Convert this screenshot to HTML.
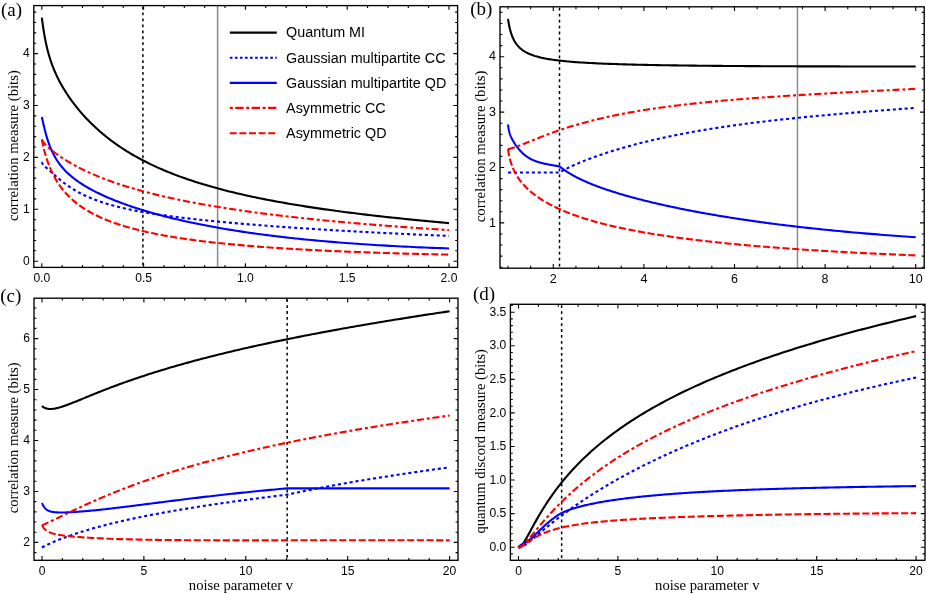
<!DOCTYPE html>
<html lang="en">
<head>
<meta charset="utf-8">
<title>Correlation measures vs noise parameter</title>
<style>
html,body{margin:0;padding:0;background:#fff;}
body{width:926px;height:594px;overflow:hidden;font-family:"Liberation Sans",sans-serif;}
svg{display:block;}
.tk{font-family:"Liberation Sans",sans-serif;fill:#000;}
.lg{font-family:"Liberation Sans",sans-serif;font-size:14.35px;fill:#000;}
.ax{font-family:"Liberation Serif",serif;fill:#000;}
.pl{font-family:"Liberation Serif",serif;font-size:19px;fill:#000;}
</style>
</head>
<body>
<svg width="926" height="594" viewBox="0 0 926 594">
<rect x="0" y="0" width="926" height="594" fill="#ffffff"/>
<defs><filter id="nf" x="0" y="0" width="926" height="594" filterUnits="userSpaceOnUse"><feOffset dx="0" dy="0"/></filter></defs>
<g filter="url(#nf)">
<g id="panel-a">
<line x1="142.91" y1="5.60" x2="142.91" y2="267.40" stroke="#000" stroke-width="1.5" stroke-dasharray="2.8 3.15" stroke-dashoffset="-1"/>
<line x1="217.61" y1="5.60" x2="217.61" y2="267.40" stroke="#8a8a8a" stroke-width="1.5"/>
<path d="M41.80 17.58 L41.81 17.66 L41.84 17.89 L41.89 18.28 L41.96 18.82 L42.06 19.51 L42.17 20.34 L42.30 21.32 L42.46 22.44 L42.63 23.68 L42.83 25.05 L43.04 26.52 L43.28 28.10 L43.54 29.76 L43.82 31.50 L44.11 33.30 L44.43 35.15 L44.77 37.04 L45.13 38.96 L45.51 40.90 L45.91 42.85 L46.33 44.81 L46.78 46.76 L47.24 48.70 L47.72 50.63 L48.23 52.55 L48.75 54.44 L49.30 56.32 L49.86 58.17 L50.45 60.01 L51.05 61.82 L51.68 63.61 L52.33 65.38 L53.00 67.13 L53.69 68.86 L54.40 70.57 L55.13 72.26 L55.88 73.94 L56.65 75.61 L57.44 77.26 L58.25 78.90 L59.08 80.52 L59.94 82.14 L60.81 83.75 L61.71 85.34 L62.62 86.93 L63.56 88.51 L64.51 90.08 L65.49 91.65 L66.49 93.20 L67.51 94.76 L68.54 96.30 L69.60 97.84 L70.68 99.37 L71.78 100.89 L72.90 102.41 L74.05 103.93 L75.21 105.43 L76.39 106.93 L77.59 108.42 L78.82 109.91 L80.06 111.38 L81.33 112.85 L82.61 114.32 L83.92 115.77 L85.24 117.22 L86.59 118.66 L87.96 120.09 L89.35 121.51 L90.76 122.92 L92.18 124.32 L93.63 125.71 L95.10 127.09 L96.60 128.47 L98.11 129.83 L99.64 131.18 L101.19 132.52 L102.77 133.85 L104.36 135.17 L105.97 136.48 L107.61 137.78 L109.26 139.07 L110.94 140.34 L112.64 141.61 L114.35 142.86 L116.09 144.10 L117.85 145.33 L119.63 146.54 L121.43 147.75 L123.25 148.94 L125.09 150.12 L126.95 151.29 L128.83 152.44 L130.73 153.59 L132.66 154.72 L134.60 155.84 L136.56 156.95 L138.55 158.04 L140.55 159.13 L142.58 160.20 L144.63 161.26 L146.69 162.31 L148.78 163.34 L150.89 164.37 L153.02 165.38 L155.17 166.38 L157.33 167.37 L159.53 168.34 L161.74 169.31 L163.97 170.26 L166.22 171.21 L168.49 172.14 L170.78 173.06 L173.10 173.97 L175.43 174.87 L177.79 175.75 L180.16 176.63 L182.56 177.50 L184.97 178.35 L187.41 179.20 L189.87 180.03 L192.35 180.86 L194.85 181.67 L197.36 182.48 L199.90 183.27 L202.47 184.06 L205.05 184.83 L207.65 185.60 L210.27 186.36 L212.91 187.10 L215.58 187.84 L218.26 188.57 L220.96 189.29 L223.69 190.00 L226.43 190.71 L229.20 191.40 L231.99 192.09 L234.79 192.77 L237.62 193.44 L240.47 194.10 L243.34 194.75 L246.23 195.40 L249.14 196.04 L252.07 196.67 L255.02 197.29 L257.99 197.91 L260.98 198.52 L264.00 199.12 L267.03 199.71 L270.08 200.30 L273.16 200.88 L276.25 201.46 L279.37 202.02 L282.50 202.59 L285.66 203.14 L288.84 203.69 L292.04 204.23 L295.26 204.77 L298.49 205.30 L301.75 205.83 L305.03 206.35 L308.33 206.86 L311.66 207.37 L315.00 207.87 L318.36 208.37 L321.74 208.86 L325.15 209.35 L328.57 209.83 L332.02 210.31 L335.48 210.78 L338.97 211.25 L342.47 211.72 L346.00 212.17 L349.55 212.63 L353.12 213.08 L356.70 213.52 L360.31 213.97 L363.94 214.40 L367.59 214.84 L371.26 215.26 L374.96 215.69 L378.67 216.11 L382.40 216.53 L386.15 216.94 L389.93 217.35 L393.72 217.76 L397.54 218.16 L401.37 218.56 L405.23 218.96 L409.10 219.35 L413.00 219.74 L416.92 220.13 L420.86 220.51 L424.82 220.89 L428.79 221.26 L432.79 221.64 L436.82 222.01 L440.86 222.38 L444.92 222.74 L449.00 223.11" fill="none" stroke="#000000" stroke-width="2.10"/>
<path d="M41.80 161.97 L41.81 161.99 L41.84 162.08 L41.89 162.21 L41.96 162.39 L42.06 162.61 L42.17 162.87 L42.30 163.15 L42.46 163.45 L42.63 163.77 L42.83 164.09 L43.04 164.42 L43.28 164.75 L43.54 165.08 L43.82 165.41 L44.11 165.74 L44.43 166.06 L44.77 166.39 L45.13 166.72 L45.51 167.06 L45.91 167.41 L46.33 167.77 L46.78 168.15 L47.24 168.54 L47.72 168.95 L48.23 169.39 L48.75 169.84 L49.30 170.31 L49.86 170.81 L50.45 171.32 L51.05 171.86 L51.68 172.42 L52.33 173.00 L53.00 173.60 L53.69 174.22 L54.40 174.86 L55.13 175.51 L55.88 176.17 L56.65 176.85 L57.44 177.54 L58.25 178.23 L59.08 178.94 L59.94 179.66 L60.81 180.37 L61.71 181.10 L62.62 181.83 L63.56 182.56 L64.51 183.29 L65.49 184.02 L66.49 184.74 L67.51 185.47 L68.54 186.19 L69.60 186.91 L70.68 187.63 L71.78 188.34 L72.90 189.04 L74.05 189.74 L75.21 190.43 L76.39 191.12 L77.59 191.79 L78.82 192.46 L80.06 193.12 L81.33 193.78 L82.61 194.42 L83.92 195.05 L85.24 195.68 L86.59 196.30 L87.96 196.90 L89.35 197.50 L90.76 198.09 L92.18 198.67 L93.63 199.24 L95.10 199.81 L96.60 200.36 L98.11 200.90 L99.64 201.44 L101.19 201.96 L102.77 202.48 L104.36 202.99 L105.97 203.49 L107.61 203.98 L109.26 204.47 L110.94 204.94 L112.64 205.41 L114.35 205.87 L116.09 206.32 L117.85 206.77 L119.63 207.21 L121.43 207.64 L123.25 208.06 L125.09 208.48 L126.95 208.89 L128.83 209.30 L130.73 209.70 L132.66 210.09 L134.60 210.47 L136.56 210.86 L138.55 211.23 L140.55 211.60 L142.58 211.96 L144.63 212.32 L146.69 212.68 L148.78 213.03 L150.89 213.37 L153.02 213.71 L155.17 214.05 L157.33 214.38 L159.53 214.71 L161.74 215.03 L163.97 215.35 L166.22 215.66 L168.49 215.98 L170.78 216.28 L173.10 216.59 L175.43 216.89 L177.79 217.19 L180.16 217.48 L182.56 217.78 L184.97 218.07 L187.41 218.35 L189.87 218.64 L192.35 218.92 L194.85 219.20 L197.36 219.47 L199.90 219.75 L202.47 220.02 L205.05 220.29 L207.65 220.55 L210.27 220.82 L212.91 221.08 L215.58 221.34 L218.26 221.60 L220.96 221.86 L223.69 222.11 L226.43 222.36 L229.20 222.62 L231.99 222.87 L234.79 223.11 L237.62 223.36 L240.47 223.60 L243.34 223.85 L246.23 224.09 L249.14 224.33 L252.07 224.57 L255.02 224.81 L257.99 225.04 L260.98 225.28 L264.00 225.51 L267.03 225.74 L270.08 225.97 L273.16 226.20 L276.25 226.43 L279.37 226.66 L282.50 226.88 L285.66 227.11 L288.84 227.33 L292.04 227.55 L295.26 227.77 L298.49 227.99 L301.75 228.21 L305.03 228.43 L308.33 228.64 L311.66 228.86 L315.00 229.07 L318.36 229.28 L321.74 229.49 L325.15 229.70 L328.57 229.91 L332.02 230.12 L335.48 230.33 L338.97 230.53 L342.47 230.73 L346.00 230.94 L349.55 231.14 L353.12 231.34 L356.70 231.54 L360.31 231.73 L363.94 231.93 L367.59 232.12 L371.26 232.32 L374.96 232.51 L378.67 232.70 L382.40 232.89 L386.15 233.08 L389.93 233.26 L393.72 233.45 L397.54 233.63 L401.37 233.81 L405.23 233.99 L409.10 234.17 L413.00 234.35 L416.92 234.53 L420.86 234.70 L424.82 234.87 L428.79 235.04 L432.79 235.21 L436.82 235.38 L440.86 235.55 L444.92 235.71 L449.00 235.87" fill="none" stroke="#0000ff" stroke-width="2.10" stroke-dasharray="3.1 2.85"/>
<path d="M41.80 116.92 L41.81 116.96 L41.84 117.09 L41.89 117.31 L41.96 117.62 L42.06 118.02 L42.17 118.52 L42.30 119.10 L42.46 119.79 L42.63 120.56 L42.83 121.43 L43.04 122.39 L43.28 123.43 L43.54 124.55 L43.82 125.75 L44.11 127.01 L44.43 128.33 L44.77 129.71 L45.13 131.12 L45.51 132.58 L45.91 134.06 L46.33 135.56 L46.78 137.08 L47.24 138.60 L47.72 140.12 L48.23 141.65 L48.75 143.16 L49.30 144.66 L49.86 146.15 L50.45 147.62 L51.05 149.06 L51.68 150.49 L52.33 151.89 L53.00 153.27 L53.69 154.62 L54.40 155.94 L55.13 157.24 L55.88 158.52 L56.65 159.76 L57.44 160.99 L58.25 162.18 L59.08 163.35 L59.94 164.50 L60.81 165.63 L61.71 166.73 L62.62 167.81 L63.56 168.87 L64.51 169.91 L65.49 170.94 L66.49 171.94 L67.51 172.93 L68.54 173.90 L69.60 174.85 L70.68 175.79 L71.78 176.72 L72.90 177.63 L74.05 178.53 L75.21 179.41 L76.39 180.29 L77.59 181.15 L78.82 182.00 L80.06 182.85 L81.33 183.68 L82.61 184.50 L83.92 185.32 L85.24 186.13 L86.59 186.92 L87.96 187.72 L89.35 188.50 L90.76 189.28 L92.18 190.05 L93.63 190.81 L95.10 191.57 L96.60 192.32 L98.11 193.06 L99.64 193.80 L101.19 194.54 L102.77 195.27 L104.36 195.99 L105.97 196.71 L107.61 197.42 L109.26 198.13 L110.94 198.83 L112.64 199.53 L114.35 200.23 L116.09 200.92 L117.85 201.60 L119.63 202.28 L121.43 202.96 L123.25 203.63 L125.09 204.30 L126.95 204.96 L128.83 205.62 L130.73 206.27 L132.66 206.92 L134.60 207.56 L136.56 208.21 L138.55 208.84 L140.55 209.47 L142.58 210.10 L144.63 210.72 L146.69 211.34 L148.78 211.96 L150.89 212.57 L153.02 213.17 L155.17 213.77 L157.33 214.37 L159.53 214.96 L161.74 215.55 L163.97 216.13 L166.22 216.71 L168.49 217.29 L170.78 217.86 L173.10 218.42 L175.43 218.98 L177.79 219.54 L180.16 220.09 L182.56 220.63 L184.97 221.17 L187.41 221.71 L189.87 222.24 L192.35 222.77 L194.85 223.29 L197.36 223.81 L199.90 224.32 L202.47 224.83 L205.05 225.33 L207.65 225.83 L210.27 226.32 L212.91 226.81 L215.58 227.29 L218.26 227.77 L220.96 228.24 L223.69 228.71 L226.43 229.17 L229.20 229.63 L231.99 230.08 L234.79 230.53 L237.62 230.97 L240.47 231.41 L243.34 231.84 L246.23 232.27 L249.14 232.69 L252.07 233.11 L255.02 233.52 L257.99 233.93 L260.98 234.33 L264.00 234.73 L267.03 235.12 L270.08 235.51 L273.16 235.89 L276.25 236.26 L279.37 236.64 L282.50 237.00 L285.66 237.36 L288.84 237.72 L292.04 238.07 L295.26 238.42 L298.49 238.76 L301.75 239.09 L305.03 239.42 L308.33 239.75 L311.66 240.07 L315.00 240.38 L318.36 240.69 L321.74 241.00 L325.15 241.30 L328.57 241.59 L332.02 241.88 L335.48 242.17 L338.97 242.45 L342.47 242.72 L346.00 242.99 L349.55 243.26 L353.12 243.52 L356.70 243.77 L360.31 244.02 L363.94 244.27 L367.59 244.51 L371.26 244.74 L374.96 244.97 L378.67 245.20 L382.40 245.42 L386.15 245.63 L389.93 245.84 L393.72 246.05 L397.54 246.25 L401.37 246.45 L405.23 246.64 L409.10 246.82 L413.00 247.01 L416.92 247.18 L420.86 247.36 L424.82 247.52 L428.79 247.69 L432.79 247.84 L436.82 248.00 L440.86 248.15 L444.92 248.29 L449.00 248.43" fill="none" stroke="#0000ff" stroke-width="2.10"/>
<path d="M41.80 139.55 L41.81 139.57 L41.84 139.63 L41.89 139.72 L41.96 139.86 L42.06 140.03 L42.17 140.23 L42.30 140.46 L42.46 140.72 L42.63 141.01 L42.83 141.31 L43.04 141.64 L43.28 141.98 L43.54 142.33 L43.82 142.70 L44.11 143.08 L44.43 143.47 L44.77 143.87 L45.13 144.28 L45.51 144.70 L45.91 145.12 L46.33 145.56 L46.78 146.00 L47.24 146.44 L47.72 146.90 L48.23 147.36 L48.75 147.83 L49.30 148.31 L49.86 148.80 L50.45 149.29 L51.05 149.79 L51.68 150.30 L52.33 150.82 L53.00 151.35 L53.69 151.88 L54.40 152.42 L55.13 152.97 L55.88 153.52 L56.65 154.08 L57.44 154.65 L58.25 155.23 L59.08 155.81 L59.94 156.39 L60.81 156.98 L61.71 157.58 L62.62 158.18 L63.56 158.78 L64.51 159.39 L65.49 160.00 L66.49 160.62 L67.51 161.24 L68.54 161.86 L69.60 162.49 L70.68 163.11 L71.78 163.74 L72.90 164.38 L74.05 165.01 L75.21 165.64 L76.39 166.28 L77.59 166.91 L78.82 167.55 L80.06 168.18 L81.33 168.82 L82.61 169.46 L83.92 170.09 L85.24 170.73 L86.59 171.36 L87.96 172.00 L89.35 172.63 L90.76 173.26 L92.18 173.89 L93.63 174.52 L95.10 175.15 L96.60 175.78 L98.11 176.40 L99.64 177.02 L101.19 177.64 L102.77 178.26 L104.36 178.88 L105.97 179.49 L107.61 180.10 L109.26 180.71 L110.94 181.31 L112.64 181.92 L114.35 182.51 L116.09 183.11 L117.85 183.71 L119.63 184.30 L121.43 184.89 L123.25 185.47 L125.09 186.05 L126.95 186.63 L128.83 187.21 L130.73 187.78 L132.66 188.35 L134.60 188.91 L136.56 189.48 L138.55 190.04 L140.55 190.59 L142.58 191.14 L144.63 191.69 L146.69 192.24 L148.78 192.78 L150.89 193.32 L153.02 193.85 L155.17 194.39 L157.33 194.91 L159.53 195.44 L161.74 195.96 L163.97 196.48 L166.22 196.99 L168.49 197.50 L170.78 198.01 L173.10 198.51 L175.43 199.01 L177.79 199.51 L180.16 200.00 L182.56 200.49 L184.97 200.98 L187.41 201.46 L189.87 201.94 L192.35 202.42 L194.85 202.89 L197.36 203.36 L199.90 203.82 L202.47 204.28 L205.05 204.74 L207.65 205.20 L210.27 205.65 L212.91 206.10 L215.58 206.54 L218.26 206.98 L220.96 207.42 L223.69 207.85 L226.43 208.29 L229.20 208.71 L231.99 209.14 L234.79 209.56 L237.62 209.98 L240.47 210.39 L243.34 210.81 L246.23 211.21 L249.14 211.62 L252.07 212.02 L255.02 212.42 L257.99 212.82 L260.98 213.21 L264.00 213.60 L267.03 213.99 L270.08 214.37 L273.16 214.75 L276.25 215.13 L279.37 215.50 L282.50 215.88 L285.66 216.24 L288.84 216.61 L292.04 216.97 L295.26 217.33 L298.49 217.69 L301.75 218.04 L305.03 218.39 L308.33 218.74 L311.66 219.09 L315.00 219.43 L318.36 219.77 L321.74 220.11 L325.15 220.44 L328.57 220.77 L332.02 221.10 L335.48 221.43 L338.97 221.75 L342.47 222.07 L346.00 222.39 L349.55 222.71 L353.12 223.02 L356.70 223.33 L360.31 223.64 L363.94 223.95 L367.59 224.25 L371.26 224.55 L374.96 224.85 L378.67 225.14 L382.40 225.44 L386.15 225.73 L389.93 226.02 L393.72 226.30 L397.54 226.58 L401.37 226.87 L405.23 227.14 L409.10 227.42 L413.00 227.70 L416.92 227.97 L420.86 228.24 L424.82 228.50 L428.79 228.77 L432.79 229.03 L436.82 229.29 L440.86 229.55 L444.92 229.81 L449.00 230.06" fill="none" stroke="#ff0000" stroke-width="2.10" stroke-dasharray="7.1 2.85 3 2.7"/>
<path d="M41.80 139.55 L41.81 139.60 L41.84 139.75 L41.89 140.01 L41.96 140.37 L42.06 140.83 L42.17 141.38 L42.30 142.02 L42.46 142.75 L42.63 143.55 L42.83 144.44 L43.04 145.39 L43.28 146.41 L43.54 147.49 L43.82 148.63 L44.11 149.81 L44.43 151.03 L44.77 152.30 L45.13 153.59 L45.51 154.91 L45.91 156.26 L46.33 157.62 L46.78 159.00 L47.24 160.39 L47.72 161.79 L48.23 163.19 L48.75 164.59 L49.30 165.99 L49.86 167.39 L50.45 168.79 L51.05 170.18 L51.68 171.55 L52.33 172.92 L53.00 174.28 L53.69 175.63 L54.40 176.96 L55.13 178.28 L55.88 179.58 L56.65 180.87 L57.44 182.14 L58.25 183.40 L59.08 184.64 L59.94 185.86 L60.81 187.06 L61.71 188.25 L62.62 189.42 L63.56 190.57 L64.51 191.71 L65.49 192.82 L66.49 193.92 L67.51 195.01 L68.54 196.07 L69.60 197.12 L70.68 198.15 L71.78 199.17 L72.90 200.17 L74.05 201.15 L75.21 202.12 L76.39 203.07 L77.59 204.00 L78.82 204.92 L80.06 205.82 L81.33 206.71 L82.61 207.59 L83.92 208.44 L85.24 209.29 L86.59 210.12 L87.96 210.94 L89.35 211.74 L90.76 212.53 L92.18 213.31 L93.63 214.07 L95.10 214.82 L96.60 215.56 L98.11 216.29 L99.64 217.00 L101.19 217.71 L102.77 218.40 L104.36 219.08 L105.97 219.74 L107.61 220.40 L109.26 221.05 L110.94 221.68 L112.64 222.31 L114.35 222.92 L116.09 223.53 L117.85 224.12 L119.63 224.71 L121.43 225.29 L123.25 225.85 L125.09 226.41 L126.95 226.96 L128.83 227.50 L130.73 228.03 L132.66 228.55 L134.60 229.06 L136.56 229.57 L138.55 230.07 L140.55 230.56 L142.58 231.04 L144.63 231.51 L146.69 231.98 L148.78 232.44 L150.89 232.89 L153.02 233.33 L155.17 233.77 L157.33 234.20 L159.53 234.63 L161.74 235.04 L163.97 235.45 L166.22 235.86 L168.49 236.25 L170.78 236.65 L173.10 237.03 L175.43 237.41 L177.79 237.78 L180.16 238.15 L182.56 238.51 L184.97 238.87 L187.41 239.22 L189.87 239.56 L192.35 239.90 L194.85 240.23 L197.36 240.56 L199.90 240.88 L202.47 241.20 L205.05 241.52 L207.65 241.82 L210.27 242.13 L212.91 242.43 L215.58 242.72 L218.26 243.01 L220.96 243.29 L223.69 243.57 L226.43 243.85 L229.20 244.12 L231.99 244.39 L234.79 244.65 L237.62 244.91 L240.47 245.16 L243.34 245.41 L246.23 245.66 L249.14 245.90 L252.07 246.14 L255.02 246.38 L257.99 246.61 L260.98 246.83 L264.00 247.06 L267.03 247.28 L270.08 247.49 L273.16 247.71 L276.25 247.92 L279.37 248.12 L282.50 248.32 L285.66 248.52 L288.84 248.72 L292.04 248.91 L295.26 249.10 L298.49 249.29 L301.75 249.47 L305.03 249.65 L308.33 249.83 L311.66 250.00 L315.00 250.17 L318.36 250.34 L321.74 250.51 L325.15 250.67 L328.57 250.83 L332.02 250.99 L335.48 251.14 L338.97 251.29 L342.47 251.44 L346.00 251.59 L349.55 251.73 L353.12 251.87 L356.70 252.01 L360.31 252.15 L363.94 252.28 L367.59 252.41 L371.26 252.54 L374.96 252.67 L378.67 252.79 L382.40 252.92 L386.15 253.04 L389.93 253.15 L393.72 253.27 L397.54 253.38 L401.37 253.49 L405.23 253.60 L409.10 253.71 L413.00 253.81 L416.92 253.91 L420.86 254.01 L424.82 254.11 L428.79 254.21 L432.79 254.30 L436.82 254.40 L440.86 254.49 L444.92 254.57 L449.00 254.66" fill="none" stroke="#ff0000" stroke-width="2.10" stroke-dasharray="7.1 2.6"/>
<path d="M41.80 267.40v-4.20 M41.80 5.60v4.20 M62.16 267.40v-2.40 M62.16 5.60v2.40 M82.52 267.40v-2.40 M82.52 5.60v2.40 M102.88 267.40v-2.40 M102.88 5.60v2.40 M123.24 267.40v-2.40 M123.24 5.60v2.40 M143.60 267.40v-4.20 M143.60 5.60v4.20 M163.96 267.40v-2.40 M163.96 5.60v2.40 M184.32 267.40v-2.40 M184.32 5.60v2.40 M204.68 267.40v-2.40 M204.68 5.60v2.40 M225.04 267.40v-2.40 M225.04 5.60v2.40 M245.40 267.40v-4.20 M245.40 5.60v4.20 M265.76 267.40v-2.40 M265.76 5.60v2.40 M286.12 267.40v-2.40 M286.12 5.60v2.40 M306.48 267.40v-2.40 M306.48 5.60v2.40 M326.84 267.40v-2.40 M326.84 5.60v2.40 M347.20 267.40v-4.20 M347.20 5.60v4.20 M367.56 267.40v-2.40 M367.56 5.60v2.40 M387.92 267.40v-2.40 M387.92 5.60v2.40 M408.28 267.40v-2.40 M408.28 5.60v2.40 M428.64 267.40v-2.40 M428.64 5.60v2.40 M449.00 267.40v-4.20 M449.00 5.60v4.20 M33.80 261.20h4.20 M457.60 261.20h-4.20 M33.80 250.82h2.40 M457.60 250.82h-2.40 M33.80 240.44h2.40 M457.60 240.44h-2.40 M33.80 230.06h2.40 M457.60 230.06h-2.40 M33.80 219.68h2.40 M457.60 219.68h-2.40 M33.80 209.30h4.20 M457.60 209.30h-4.20 M33.80 198.92h2.40 M457.60 198.92h-2.40 M33.80 188.54h2.40 M457.60 188.54h-2.40 M33.80 178.16h2.40 M457.60 178.16h-2.40 M33.80 167.78h2.40 M457.60 167.78h-2.40 M33.80 157.40h4.20 M457.60 157.40h-4.20 M33.80 147.02h2.40 M457.60 147.02h-2.40 M33.80 136.64h2.40 M457.60 136.64h-2.40 M33.80 126.26h2.40 M457.60 126.26h-2.40 M33.80 115.88h2.40 M457.60 115.88h-2.40 M33.80 105.50h4.20 M457.60 105.50h-4.20 M33.80 95.12h2.40 M457.60 95.12h-2.40 M33.80 84.74h2.40 M457.60 84.74h-2.40 M33.80 74.36h2.40 M457.60 74.36h-2.40 M33.80 63.98h2.40 M457.60 63.98h-2.40 M33.80 53.60h4.20 M457.60 53.60h-4.20 M33.80 43.22h2.40 M457.60 43.22h-2.40 M33.80 32.84h2.40 M457.60 32.84h-2.40 M33.80 22.46h2.40 M457.60 22.46h-2.40 M33.80 12.08h2.40 M457.60 12.08h-2.40" fill="none" stroke="#000" stroke-width="1.1"/>
<rect x="33.80" y="5.60" width="423.80" height="261.80" fill="none" stroke="#000" stroke-width="1.35"/>
<text class="tk" font-size="12.10" x="41.80" y="281.70" text-anchor="middle">0.0</text>
<text class="tk" font-size="12.10" x="143.60" y="281.70" text-anchor="middle">0.5</text>
<text class="tk" font-size="12.10" x="245.40" y="281.70" text-anchor="middle">1.0</text>
<text class="tk" font-size="12.10" x="347.20" y="281.70" text-anchor="middle">1.5</text>
<text class="tk" font-size="12.10" x="449.00" y="281.70" text-anchor="middle">2.0</text>
<text class="tk" font-size="12.10" x="29.70" y="264.83" text-anchor="end">0</text>
<text class="tk" font-size="12.10" x="29.70" y="212.93" text-anchor="end">1</text>
<text class="tk" font-size="12.10" x="29.70" y="161.03" text-anchor="end">2</text>
<text class="tk" font-size="12.10" x="29.70" y="109.13" text-anchor="end">3</text>
<text class="tk" font-size="12.10" x="29.70" y="57.23" text-anchor="end">4</text>
</g>
<g id="panel-b">
<line x1="559.51" y1="6.80" x2="559.51" y2="268.20" stroke="#000" stroke-width="1.5" stroke-dasharray="2.8 3.15" stroke-dashoffset="-1"/>
<line x1="797.47" y1="6.80" x2="797.47" y2="268.20" stroke="#8a8a8a" stroke-width="1.5"/>
<path d="M508.00 18.86 L508.01 18.93 L508.04 19.14 L508.09 19.49 L508.16 19.96 L508.26 20.56 L508.37 21.26 L508.50 22.06 L508.66 22.94 L508.83 23.90 L509.03 24.91 L509.25 25.98 L509.48 27.07 L509.74 28.19 L510.02 29.32 L510.32 30.46 L510.64 31.60 L510.98 32.73 L511.34 33.84 L511.72 34.93 L512.12 36.00 L512.54 37.05 L512.98 38.07 L513.45 39.06 L513.93 40.02 L514.43 40.94 L514.96 41.84 L515.51 42.70 L516.07 43.54 L516.66 44.34 L517.27 45.12 L517.89 45.86 L518.54 46.57 L519.21 47.26 L519.90 47.92 L520.61 48.56 L521.34 49.17 L522.09 49.75 L522.87 50.31 L523.66 50.85 L524.47 51.37 L525.31 51.87 L526.16 52.35 L527.04 52.81 L527.93 53.25 L528.85 53.68 L529.78 54.08 L530.74 54.48 L531.72 54.86 L532.72 55.22 L533.74 55.57 L534.78 55.91 L535.84 56.23 L536.92 56.55 L538.02 56.85 L539.14 57.14 L540.29 57.42 L541.45 57.69 L542.63 57.95 L543.84 58.21 L545.06 58.45 L546.31 58.68 L547.57 58.91 L548.86 59.13 L550.17 59.34 L551.50 59.55 L552.85 59.75 L554.22 59.94 L555.60 60.13 L557.02 60.31 L558.45 60.48 L559.90 60.65 L561.37 60.82 L562.86 60.98 L564.38 61.13 L565.91 61.28 L567.47 61.43 L569.04 61.57 L570.64 61.70 L572.25 61.84 L573.89 61.97 L575.55 62.09 L577.22 62.21 L578.92 62.33 L580.64 62.45 L582.38 62.56 L584.14 62.67 L585.92 62.77 L587.73 62.88 L589.55 62.98 L591.39 63.07 L593.25 63.17 L595.14 63.26 L597.04 63.35 L598.97 63.44 L600.91 63.52 L602.88 63.61 L604.87 63.69 L606.88 63.77 L608.90 63.85 L610.95 63.92 L613.02 63.99 L615.11 64.07 L617.22 64.14 L619.35 64.20 L621.50 64.27 L623.68 64.33 L625.87 64.40 L628.08 64.46 L630.32 64.52 L632.57 64.58 L634.85 64.64 L637.14 64.69 L639.46 64.75 L641.80 64.80 L644.15 64.85 L646.53 64.90 L648.93 64.95 L651.35 65.00 L653.79 65.05 L656.25 65.09 L658.73 65.14 L661.23 65.18 L663.76 65.22 L666.30 65.27 L668.86 65.31 L671.45 65.35 L674.05 65.38 L676.68 65.42 L679.32 65.46 L681.99 65.50 L684.68 65.53 L687.38 65.56 L690.11 65.60 L692.86 65.63 L695.63 65.66 L698.42 65.69 L701.23 65.72 L704.06 65.75 L706.91 65.78 L709.79 65.81 L712.68 65.84 L715.59 65.86 L718.53 65.89 L721.48 65.91 L724.46 65.94 L727.45 65.96 L730.47 65.98 L733.51 66.01 L736.56 66.03 L739.64 66.05 L742.74 66.07 L745.86 66.09 L749.00 66.11 L752.16 66.13 L755.34 66.15 L758.54 66.16 L761.77 66.18 L765.01 66.20 L768.27 66.21 L771.56 66.23 L774.86 66.24 L778.19 66.26 L781.53 66.27 L784.90 66.28 L788.29 66.30 L791.69 66.31 L795.12 66.32 L798.57 66.33 L802.04 66.34 L805.53 66.35 L809.04 66.36 L812.57 66.37 L816.12 66.38 L819.70 66.39 L823.29 66.39 L826.90 66.40 L830.54 66.41 L834.19 66.41 L837.87 66.42 L841.56 66.43 L845.28 66.43 L849.02 66.44 L852.78 66.44 L856.55 66.44 L860.35 66.45 L864.17 66.45 L868.01 66.45 L871.87 66.45 L875.75 66.46 L879.66 66.46 L883.58 66.46 L887.52 66.46 L891.49 66.46 L895.47 66.46 L899.47 66.46 L903.50 66.46 L907.55 66.45 L911.61 66.45 L915.70 66.45" fill="none" stroke="#000000" stroke-width="2.10"/>
<path d="M508.00 172.49 L508.00 172.49 L508.01 172.49 L508.01 172.49 L508.02 172.49 L508.03 172.49 L508.05 172.49 L508.06 172.49 L508.08 172.49 L508.11 172.49 L508.13 172.49 L508.16 172.49 L508.19 172.49 L508.22 172.49 L508.25 172.49 L508.29 172.49 L508.33 172.49 L508.38 172.49 L508.42 172.49 L508.47 172.49 L508.52 172.49 L508.57 172.49 L508.63 172.49 L508.69 172.49 L508.75 172.49 L508.81 172.49 L508.88 172.49 L508.95 172.49 L509.02 172.49 L509.09 172.49 L509.17 172.49 L509.25 172.49 L509.33 172.49 L509.42 172.49 L509.50 172.49 L509.59 172.49 L509.69 172.49 L509.78 172.49 L509.88 172.49 L509.98 172.49 L510.08 172.49 L510.19 172.49 L510.29 172.49 L510.40 172.49 L510.52 172.49 L510.63 172.49 L510.75 172.49 L510.87 172.49 L511.00 172.49 L511.12 172.49 L511.25 172.49 L511.38 172.49 L511.52 172.49 L511.65 172.49 L511.79 172.49 L511.93 172.49 L512.08 172.49 L512.23 172.49 L512.38 172.49 L512.53 172.49 L512.68 172.49 L512.84 172.49 L513.00 172.49 L513.16 172.49 L513.33 172.49 L513.50 172.49 L513.67 172.49 L513.84 172.49 L514.01 172.49 L514.19 172.49 L514.37 172.49 L514.56 172.49 L514.74 172.49 L514.93 172.49 L515.12 172.49 L515.32 172.49 L515.51 172.49 L515.71 172.49 L515.91 172.49 L516.12 172.49 L516.32 172.49 L516.53 172.49 L516.75 172.49 L516.96 172.49 L517.18 172.49 L517.40 172.49 L517.62 172.49 L517.84 172.49 L518.07 172.49 L518.30 172.49 L518.54 172.49 L518.77 172.49 L519.01 172.49 L519.25 172.49 L519.49 172.49 L519.74 172.49 L519.99 172.49 L520.24 172.49 L520.49 172.49 L520.75 172.49 L521.01 172.49 L521.27 172.49 L521.53 172.49 L521.80 172.49 L522.07 172.49 L522.34 172.49 L522.61 172.49 L522.89 172.49 L523.17 172.49 L523.45 172.49 L523.74 172.49 L524.03 172.49 L524.32 172.49 L524.61 172.49 L524.90 172.49 L525.20 172.49 L525.50 172.49 L525.80 172.49 L526.11 172.49 L526.42 172.49 L526.73 172.49 L527.04 172.49 L527.36 172.49 L527.68 172.49 L528.00 172.49 L528.32 172.49 L528.65 172.49 L528.98 172.49 L529.31 172.49 L529.64 172.49 L529.98 172.49 L530.32 172.49 L530.66 172.49 L531.01 172.49 L531.35 172.49 L531.70 172.49 L532.06 172.49 L532.41 172.49 L532.77 172.49 L533.13 172.49 L533.49 172.49 L533.86 172.49 L534.23 172.49 L534.60 172.49 L534.97 172.49 L535.35 172.49 L535.72 172.49 L536.11 172.49 L536.49 172.49 L536.88 172.49 L537.26 172.49 L537.66 172.49 L538.05 172.49 L538.45 172.49 L538.85 172.49 L539.25 172.49 L539.65 172.49 L540.06 172.49 L540.47 172.49 L540.88 172.49 L541.30 172.49 L541.71 172.49 L542.13 172.49 L542.56 172.49 L542.98 172.49 L543.41 172.49 L543.84 172.49 L544.27 172.49 L544.71 172.49 L545.15 172.49 L545.59 172.49 L546.03 172.49 L546.48 172.49 L546.93 172.49 L547.38 172.49 L547.83 172.49 L548.29 172.49 L548.75 172.49 L549.21 172.49 L549.67 172.49 L550.14 172.49 L550.61 172.49 L551.08 172.49 L551.56 172.49 L552.03 172.49 L552.51 172.49 L553.00 172.49 L553.48 172.49 L553.97 172.49 L554.46 172.49 L554.95 172.49 L555.45 172.49 L555.95 172.49 L556.45 172.49 L556.95 172.49 L557.46 172.49 L557.96 172.49 L558.48 172.49 L558.99 172.49 L559.51 172.49 L559.51 172.49 L559.52 172.48 L559.54 172.46 L559.59 172.44 L559.65 172.40 L559.73 172.35 L559.83 172.29 L559.95 172.22 L560.08 172.15 L560.23 172.06 L560.41 171.96 L560.59 171.85 L560.80 171.73 L561.03 171.60 L561.27 171.46 L561.53 171.31 L561.81 171.15 L562.11 170.99 L562.42 170.81 L562.75 170.63 L563.10 170.44 L563.47 170.24 L563.86 170.03 L564.26 169.81 L564.69 169.59 L565.13 169.36 L565.59 169.12 L566.06 168.88 L566.56 168.63 L567.07 168.37 L567.60 168.11 L568.15 167.84 L568.72 167.56 L569.30 167.28 L569.90 166.99 L570.52 166.70 L571.16 166.40 L571.82 166.09 L572.49 165.78 L573.19 165.47 L573.90 165.15 L574.63 164.83 L575.37 164.50 L576.14 164.17 L576.92 163.83 L577.72 163.49 L578.54 163.14 L579.38 162.79 L580.23 162.44 L581.10 162.08 L581.99 161.72 L582.90 161.35 L583.83 160.99 L584.77 160.61 L585.73 160.24 L586.71 159.86 L587.71 159.48 L588.73 159.09 L589.76 158.70 L590.82 158.31 L591.89 157.92 L592.97 157.52 L594.08 157.12 L595.21 156.72 L596.35 156.32 L597.51 155.91 L598.69 155.50 L599.88 155.09 L601.10 154.67 L602.33 154.26 L603.58 153.84 L604.85 153.42 L606.13 153.00 L607.44 152.57 L608.76 152.15 L610.10 151.72 L611.46 151.29 L612.83 150.87 L614.23 150.43 L615.64 150.00 L617.07 149.57 L618.52 149.14 L619.99 148.70 L621.47 148.27 L622.97 147.83 L624.49 147.40 L626.03 146.96 L627.59 146.52 L629.16 146.09 L630.75 145.65 L632.36 145.21 L633.99 144.78 L635.64 144.34 L637.30 143.90 L638.98 143.47 L640.68 143.03 L642.40 142.60 L644.14 142.17 L645.89 141.73 L647.66 141.30 L649.45 140.87 L651.26 140.44 L653.09 140.01 L654.93 139.58 L656.79 139.16 L658.67 138.73 L660.57 138.31 L662.48 137.88 L664.42 137.46 L666.37 137.04 L668.34 136.63 L670.33 136.21 L672.33 135.80 L674.36 135.39 L676.40 134.98 L678.46 134.57 L680.54 134.16 L682.63 133.76 L684.75 133.36 L686.88 132.96 L689.03 132.56 L691.20 132.16 L693.38 131.77 L695.58 131.38 L697.81 130.99 L700.05 130.61 L702.30 130.22 L704.58 129.84 L706.87 129.46 L709.18 129.09 L711.51 128.71 L713.86 128.34 L716.23 127.97 L718.61 127.61 L721.01 127.24 L723.43 126.88 L725.87 126.52 L728.33 126.17 L730.80 125.81 L733.29 125.46 L735.80 125.11 L738.33 124.77 L740.87 124.42 L743.44 124.08 L746.02 123.74 L748.62 123.41 L751.23 123.07 L753.87 122.74 L756.52 122.41 L759.19 122.09 L761.88 121.76 L764.59 121.44 L767.32 121.12 L770.06 120.80 L772.82 120.49 L775.60 120.17 L778.40 119.86 L781.21 119.55 L784.05 119.25 L786.90 118.94 L789.77 118.64 L792.65 118.34 L795.56 118.04 L798.48 117.74 L801.42 117.45 L804.38 117.15 L807.36 116.86 L810.36 116.57 L813.37 116.28 L816.40 116.00 L819.45 115.71 L822.52 115.43 L825.60 115.14 L828.70 114.86 L831.83 114.58 L834.96 114.30 L838.12 114.03 L841.30 113.75 L844.49 113.47 L847.70 113.20 L850.93 112.93 L854.18 112.65 L857.44 112.38 L860.73 112.11 L864.03 111.84 L867.35 111.57 L870.68 111.30 L874.04 111.03 L877.41 110.77 L880.80 110.50 L884.21 110.23 L887.64 109.97 L891.08 109.70 L894.54 109.43 L898.03 109.17 L901.52 108.90 L905.04 108.63 L908.58 108.37 L912.13 108.10 L915.70 107.83" fill="none" stroke="#0000ff" stroke-width="2.10" stroke-dasharray="3.1 2.85"/>
<path d="M508.00 124.40 L508.00 124.41 L508.01 124.44 L508.01 124.50 L508.02 124.57 L508.03 124.67 L508.05 124.78 L508.06 124.92 L508.08 125.07 L508.11 125.24 L508.13 125.43 L508.16 125.64 L508.19 125.86 L508.22 126.09 L508.25 126.34 L508.29 126.60 L508.33 126.87 L508.38 127.15 L508.42 127.44 L508.47 127.74 L508.52 128.04 L508.57 128.35 L508.63 128.67 L508.69 128.99 L508.75 129.31 L508.81 129.63 L508.88 129.96 L508.95 130.29 L509.02 130.61 L509.09 130.94 L509.17 131.27 L509.25 131.59 L509.33 131.92 L509.42 132.24 L509.50 132.56 L509.59 132.88 L509.69 133.19 L509.78 133.50 L509.88 133.81 L509.98 134.12 L510.08 134.43 L510.19 134.73 L510.29 135.03 L510.40 135.33 L510.52 135.62 L510.63 135.92 L510.75 136.21 L510.87 136.50 L511.00 136.78 L511.12 137.07 L511.25 137.36 L511.38 137.64 L511.52 137.92 L511.65 138.21 L511.79 138.49 L511.93 138.77 L512.08 139.05 L512.23 139.33 L512.38 139.61 L512.53 139.90 L512.68 140.18 L512.84 140.46 L513.00 140.74 L513.16 141.02 L513.33 141.30 L513.50 141.59 L513.67 141.87 L513.84 142.16 L514.01 142.44 L514.19 142.73 L514.37 143.01 L514.56 143.30 L514.74 143.59 L514.93 143.87 L515.12 144.16 L515.32 144.45 L515.51 144.74 L515.71 145.03 L515.91 145.32 L516.12 145.61 L516.32 145.90 L516.53 146.19 L516.75 146.48 L516.96 146.77 L517.18 147.06 L517.40 147.35 L517.62 147.63 L517.84 147.92 L518.07 148.21 L518.30 148.50 L518.54 148.78 L518.77 149.07 L519.01 149.35 L519.25 149.63 L519.49 149.91 L519.74 150.19 L519.99 150.47 L520.24 150.75 L520.49 151.03 L520.75 151.30 L521.01 151.57 L521.27 151.84 L521.53 152.11 L521.80 152.37 L522.07 152.64 L522.34 152.90 L522.61 153.16 L522.89 153.41 L523.17 153.67 L523.45 153.92 L523.74 154.17 L524.03 154.42 L524.32 154.66 L524.61 154.90 L524.90 155.14 L525.20 155.37 L525.50 155.61 L525.80 155.84 L526.11 156.06 L526.42 156.29 L526.73 156.51 L527.04 156.72 L527.36 156.94 L527.68 157.15 L528.00 157.36 L528.32 157.56 L528.65 157.76 L528.98 157.96 L529.31 158.16 L529.64 158.35 L529.98 158.54 L530.32 158.73 L530.66 158.91 L531.01 159.09 L531.35 159.27 L531.70 159.44 L532.06 159.61 L532.41 159.78 L532.77 159.94 L533.13 160.11 L533.49 160.27 L533.86 160.42 L534.23 160.57 L534.60 160.72 L534.97 160.87 L535.35 161.02 L535.72 161.16 L536.11 161.30 L536.49 161.44 L536.88 161.57 L537.26 161.70 L537.66 161.83 L538.05 161.96 L538.45 162.08 L538.85 162.20 L539.25 162.32 L539.65 162.44 L540.06 162.56 L540.47 162.67 L540.88 162.78 L541.30 162.89 L541.71 163.00 L542.13 163.10 L542.56 163.21 L542.98 163.31 L543.41 163.41 L543.84 163.51 L544.27 163.61 L544.71 163.70 L545.15 163.80 L545.59 163.89 L546.03 163.98 L546.48 164.07 L546.93 164.16 L547.38 164.25 L547.83 164.34 L548.29 164.43 L548.75 164.52 L549.21 164.60 L549.67 164.69 L550.14 164.77 L550.61 164.86 L551.08 164.94 L551.56 165.02 L552.03 165.11 L552.51 165.19 L553.00 165.28 L553.48 165.36 L553.97 165.44 L554.46 165.53 L554.95 165.61 L555.45 165.69 L555.95 165.78 L556.45 165.86 L556.95 165.95 L557.46 166.04 L557.96 166.12 L558.48 166.21 L558.99 166.30 L559.51 166.39 L559.51 166.39 L559.52 166.40 L559.54 166.42 L559.59 166.46 L559.65 166.51 L559.73 166.57 L559.83 166.65 L559.95 166.74 L560.08 166.85 L560.23 166.97 L560.41 167.11 L560.59 167.25 L560.80 167.41 L561.03 167.59 L561.27 167.77 L561.53 167.97 L561.81 168.18 L562.11 168.40 L562.42 168.63 L562.75 168.87 L563.10 169.13 L563.47 169.39 L563.86 169.66 L564.26 169.95 L564.69 170.24 L565.13 170.54 L565.59 170.85 L566.06 171.17 L566.56 171.49 L567.07 171.83 L567.60 172.16 L568.15 172.51 L568.72 172.86 L569.30 173.22 L569.90 173.58 L570.52 173.95 L571.16 174.33 L571.82 174.71 L572.49 175.09 L573.19 175.48 L573.90 175.87 L574.63 176.27 L575.37 176.67 L576.14 177.07 L576.92 177.47 L577.72 177.88 L578.54 178.29 L579.38 178.71 L580.23 179.12 L581.10 179.54 L581.99 179.96 L582.90 180.38 L583.83 180.80 L584.77 181.23 L585.73 181.65 L586.71 182.08 L587.71 182.51 L588.73 182.94 L589.76 183.37 L590.82 183.81 L591.89 184.24 L592.97 184.67 L594.08 185.11 L595.21 185.54 L596.35 185.98 L597.51 186.41 L598.69 186.85 L599.88 187.29 L601.10 187.73 L602.33 188.17 L603.58 188.60 L604.85 189.04 L606.13 189.48 L607.44 189.92 L608.76 190.36 L610.10 190.80 L611.46 191.24 L612.83 191.68 L614.23 192.12 L615.64 192.56 L617.07 193.00 L618.52 193.44 L619.99 193.89 L621.47 194.33 L622.97 194.77 L624.49 195.21 L626.03 195.65 L627.59 196.09 L629.16 196.53 L630.75 196.97 L632.36 197.41 L633.99 197.85 L635.64 198.29 L637.30 198.73 L638.98 199.16 L640.68 199.60 L642.40 200.04 L644.14 200.48 L645.89 200.92 L647.66 201.35 L649.45 201.79 L651.26 202.22 L653.09 202.66 L654.93 203.09 L656.79 203.53 L658.67 203.96 L660.57 204.39 L662.48 204.83 L664.42 205.26 L666.37 205.69 L668.34 206.12 L670.33 206.55 L672.33 206.98 L674.36 207.40 L676.40 207.83 L678.46 208.25 L680.54 208.68 L682.63 209.10 L684.75 209.52 L686.88 209.95 L689.03 210.37 L691.20 210.78 L693.38 211.20 L695.58 211.62 L697.81 212.03 L700.05 212.45 L702.30 212.86 L704.58 213.27 L706.87 213.68 L709.18 214.09 L711.51 214.49 L713.86 214.90 L716.23 215.30 L718.61 215.70 L721.01 216.10 L723.43 216.50 L725.87 216.90 L728.33 217.29 L730.80 217.68 L733.29 218.08 L735.80 218.47 L738.33 218.85 L740.87 219.24 L743.44 219.62 L746.02 220.00 L748.62 220.38 L751.23 220.76 L753.87 221.14 L756.52 221.51 L759.19 221.88 L761.88 222.25 L764.59 222.62 L767.32 222.98 L770.06 223.34 L772.82 223.70 L775.60 224.06 L778.40 224.42 L781.21 224.77 L784.05 225.12 L786.90 225.47 L789.77 225.81 L792.65 226.16 L795.56 226.50 L798.48 226.84 L801.42 227.17 L804.38 227.51 L807.36 227.84 L810.36 228.16 L813.37 228.49 L816.40 228.81 L819.45 229.13 L822.52 229.45 L825.60 229.77 L828.70 230.08 L831.83 230.39 L834.96 230.69 L838.12 231.00 L841.30 231.30 L844.49 231.60 L847.70 231.89 L850.93 232.19 L854.18 232.48 L857.44 232.76 L860.73 233.05 L864.03 233.33 L867.35 233.61 L870.68 233.88 L874.04 234.16 L877.41 234.42 L880.80 234.69 L884.21 234.96 L887.64 235.22 L891.08 235.47 L894.54 235.73 L898.03 235.98 L901.52 236.23 L905.04 236.47 L908.58 236.72 L912.13 236.96 L915.70 237.19" fill="none" stroke="#0000ff" stroke-width="2.10"/>
<path d="M508.00 149.22 L508.01 149.22 L508.04 149.21 L508.09 149.20 L508.16 149.18 L508.26 149.16 L508.37 149.13 L508.50 149.10 L508.66 149.06 L508.83 149.01 L509.03 148.96 L509.25 148.91 L509.48 148.84 L509.74 148.77 L510.02 148.70 L510.32 148.61 L510.64 148.52 L510.98 148.42 L511.34 148.32 L511.72 148.20 L512.12 148.08 L512.54 147.95 L512.98 147.81 L513.45 147.66 L513.93 147.50 L514.43 147.33 L514.96 147.15 L515.51 146.97 L516.07 146.77 L516.66 146.56 L517.27 146.34 L517.89 146.11 L518.54 145.87 L519.21 145.62 L519.90 145.36 L520.61 145.09 L521.34 144.81 L522.09 144.52 L522.87 144.22 L523.66 143.91 L524.47 143.59 L525.31 143.26 L526.16 142.92 L527.04 142.57 L527.93 142.21 L528.85 141.85 L529.78 141.47 L530.74 141.09 L531.72 140.69 L532.72 140.29 L533.74 139.88 L534.78 139.47 L535.84 139.05 L536.92 138.62 L538.02 138.18 L539.14 137.74 L540.29 137.29 L541.45 136.84 L542.63 136.38 L543.84 135.92 L545.06 135.45 L546.31 134.98 L547.57 134.50 L548.86 134.02 L550.17 133.54 L551.50 133.05 L552.85 132.56 L554.22 132.07 L555.60 131.58 L557.02 131.09 L558.45 130.59 L559.90 130.09 L561.37 129.60 L562.86 129.10 L564.38 128.60 L565.91 128.10 L567.47 127.60 L569.04 127.10 L570.64 126.61 L572.25 126.11 L573.89 125.61 L575.55 125.12 L577.22 124.63 L578.92 124.13 L580.64 123.65 L582.38 123.16 L584.14 122.67 L585.92 122.19 L587.73 121.71 L589.55 121.23 L591.39 120.76 L593.25 120.29 L595.14 119.82 L597.04 119.35 L598.97 118.89 L600.91 118.43 L602.88 117.97 L604.87 117.52 L606.88 117.07 L608.90 116.63 L610.95 116.19 L613.02 115.75 L615.11 115.32 L617.22 114.89 L619.35 114.47 L621.50 114.05 L623.68 113.63 L625.87 113.22 L628.08 112.81 L630.32 112.40 L632.57 112.00 L634.85 111.61 L637.14 111.22 L639.46 110.83 L641.80 110.45 L644.15 110.07 L646.53 109.69 L648.93 109.32 L651.35 108.96 L653.79 108.60 L656.25 108.24 L658.73 107.88 L661.23 107.54 L663.76 107.19 L666.30 106.85 L668.86 106.51 L671.45 106.18 L674.05 105.85 L676.68 105.52 L679.32 105.20 L681.99 104.89 L684.68 104.57 L687.38 104.26 L690.11 103.96 L692.86 103.65 L695.63 103.36 L698.42 103.06 L701.23 102.77 L704.06 102.48 L706.91 102.19 L709.79 101.91 L712.68 101.63 L715.59 101.36 L718.53 101.09 L721.48 100.82 L724.46 100.55 L727.45 100.29 L730.47 100.03 L733.51 99.77 L736.56 99.52 L739.64 99.27 L742.74 99.02 L745.86 98.77 L749.00 98.53 L752.16 98.28 L755.34 98.04 L758.54 97.81 L761.77 97.57 L765.01 97.34 L768.27 97.11 L771.56 96.88 L774.86 96.65 L778.19 96.43 L781.53 96.21 L784.90 95.99 L788.29 95.77 L791.69 95.55 L795.12 95.33 L798.57 95.12 L802.04 94.90 L805.53 94.69 L809.04 94.48 L812.57 94.27 L816.12 94.06 L819.70 93.86 L823.29 93.65 L826.90 93.44 L830.54 93.24 L834.19 93.04 L837.87 92.83 L841.56 92.63 L845.28 92.43 L849.02 92.23 L852.78 92.03 L856.55 91.83 L860.35 91.63 L864.17 91.43 L868.01 91.23 L871.87 91.03 L875.75 90.83 L879.66 90.63 L883.58 90.43 L887.52 90.23 L891.49 90.03 L895.47 89.83 L899.47 89.63 L903.50 89.43 L907.55 89.23 L911.61 89.03 L915.70 88.83" fill="none" stroke="#ff0000" stroke-width="2.10" stroke-dasharray="7.1 2.85 3 2.7"/>
<path d="M508.00 149.22 L508.01 149.29 L508.04 149.49 L508.09 149.83 L508.16 150.30 L508.26 150.88 L508.37 151.56 L508.50 152.34 L508.66 153.20 L508.83 154.13 L509.03 155.11 L509.25 156.14 L509.48 157.20 L509.74 158.29 L510.02 159.40 L510.32 160.51 L510.64 161.63 L510.98 162.76 L511.34 163.87 L511.72 164.98 L512.12 166.09 L512.54 167.18 L512.98 168.26 L513.45 169.33 L513.93 170.39 L514.43 171.43 L514.96 172.47 L515.51 173.49 L516.07 174.49 L516.66 175.49 L517.27 176.47 L517.89 177.44 L518.54 178.40 L519.21 179.35 L519.90 180.29 L520.61 181.22 L521.34 182.14 L522.09 183.05 L522.87 183.95 L523.66 184.84 L524.47 185.73 L525.31 186.60 L526.16 187.47 L527.04 188.32 L527.93 189.17 L528.85 190.01 L529.78 190.84 L530.74 191.67 L531.72 192.49 L532.72 193.29 L533.74 194.10 L534.78 194.89 L535.84 195.68 L536.92 196.46 L538.02 197.23 L539.14 197.99 L540.29 198.75 L541.45 199.50 L542.63 200.25 L543.84 200.98 L545.06 201.71 L546.31 202.44 L547.57 203.15 L548.86 203.86 L550.17 204.56 L551.50 205.26 L552.85 205.95 L554.22 206.63 L555.60 207.30 L557.02 207.97 L558.45 208.64 L559.90 209.29 L561.37 209.94 L562.86 210.59 L564.38 211.22 L565.91 211.85 L567.47 212.48 L569.04 213.10 L570.64 213.71 L572.25 214.31 L573.89 214.91 L575.55 215.51 L577.22 216.09 L578.92 216.68 L580.64 217.25 L582.38 217.82 L584.14 218.39 L585.92 218.95 L587.73 219.50 L589.55 220.05 L591.39 220.59 L593.25 221.12 L595.14 221.65 L597.04 222.18 L598.97 222.70 L600.91 223.21 L602.88 223.72 L604.87 224.23 L606.88 224.73 L608.90 225.22 L610.95 225.71 L613.02 226.19 L615.11 226.67 L617.22 227.14 L619.35 227.61 L621.50 228.08 L623.68 228.54 L625.87 228.99 L628.08 229.44 L630.32 229.88 L632.57 230.32 L634.85 230.76 L637.14 231.19 L639.46 231.62 L641.80 232.04 L644.15 232.45 L646.53 232.87 L648.93 233.28 L651.35 233.68 L653.79 234.08 L656.25 234.48 L658.73 234.87 L661.23 235.26 L663.76 235.64 L666.30 236.02 L668.86 236.39 L671.45 236.77 L674.05 237.13 L676.68 237.50 L679.32 237.86 L681.99 238.21 L684.68 238.57 L687.38 238.91 L690.11 239.26 L692.86 239.60 L695.63 239.94 L698.42 240.27 L701.23 240.60 L704.06 240.93 L706.91 241.25 L709.79 241.57 L712.68 241.89 L715.59 242.20 L718.53 242.51 L721.48 242.82 L724.46 243.12 L727.45 243.42 L730.47 243.72 L733.51 244.01 L736.56 244.30 L739.64 244.59 L742.74 244.87 L745.86 245.15 L749.00 245.43 L752.16 245.71 L755.34 245.98 L758.54 246.25 L761.77 246.51 L765.01 246.78 L768.27 247.04 L771.56 247.30 L774.86 247.55 L778.19 247.80 L781.53 248.05 L784.90 248.30 L788.29 248.54 L791.69 248.78 L795.12 249.02 L798.57 249.26 L802.04 249.49 L805.53 249.72 L809.04 249.95 L812.57 250.18 L816.12 250.40 L819.70 250.62 L823.29 250.84 L826.90 251.06 L830.54 251.27 L834.19 251.48 L837.87 251.69 L841.56 251.90 L845.28 252.10 L849.02 252.31 L852.78 252.51 L856.55 252.70 L860.35 252.90 L864.17 253.09 L868.01 253.28 L871.87 253.47 L875.75 253.66 L879.66 253.85 L883.58 254.03 L887.52 254.21 L891.49 254.39 L895.47 254.57 L899.47 254.74 L903.50 254.91 L907.55 255.08 L911.61 255.25 L915.70 255.42" fill="none" stroke="#ff0000" stroke-width="2.10" stroke-dasharray="7.1 2.6"/>
<path d="M508.00 268.20v-2.40 M508.00 6.80v2.40 M530.65 268.20v-2.40 M530.65 6.80v2.40 M553.30 268.20v-4.20 M553.30 6.80v4.20 M575.95 268.20v-2.40 M575.95 6.80v2.40 M598.60 268.20v-2.40 M598.60 6.80v2.40 M621.25 268.20v-2.40 M621.25 6.80v2.40 M643.90 268.20v-4.20 M643.90 6.80v4.20 M666.55 268.20v-2.40 M666.55 6.80v2.40 M689.20 268.20v-2.40 M689.20 6.80v2.40 M711.85 268.20v-2.40 M711.85 6.80v2.40 M734.50 268.20v-4.20 M734.50 6.80v4.20 M757.15 268.20v-2.40 M757.15 6.80v2.40 M779.80 268.20v-2.40 M779.80 6.80v2.40 M802.45 268.20v-2.40 M802.45 6.80v2.40 M825.10 268.20v-4.20 M825.10 6.80v4.20 M847.75 268.20v-2.40 M847.75 6.80v2.40 M870.40 268.20v-2.40 M870.40 6.80v2.40 M893.05 268.20v-2.40 M893.05 6.80v2.40 M915.70 268.20v-4.20 M915.70 6.80v4.20 M500.00 267.22h2.40 M924.20 267.22h-2.40 M500.00 256.14h2.40 M924.20 256.14h-2.40 M500.00 245.06h2.40 M924.20 245.06h-2.40 M500.00 233.98h2.40 M924.20 233.98h-2.40 M500.00 222.90h4.20 M924.20 222.90h-4.20 M500.00 211.82h2.40 M924.20 211.82h-2.40 M500.00 200.74h2.40 M924.20 200.74h-2.40 M500.00 189.66h2.40 M924.20 189.66h-2.40 M500.00 178.58h2.40 M924.20 178.58h-2.40 M500.00 167.50h4.20 M924.20 167.50h-4.20 M500.00 156.42h2.40 M924.20 156.42h-2.40 M500.00 145.34h2.40 M924.20 145.34h-2.40 M500.00 134.26h2.40 M924.20 134.26h-2.40 M500.00 123.18h2.40 M924.20 123.18h-2.40 M500.00 112.10h4.20 M924.20 112.10h-4.20 M500.00 101.02h2.40 M924.20 101.02h-2.40 M500.00 89.94h2.40 M924.20 89.94h-2.40 M500.00 78.86h2.40 M924.20 78.86h-2.40 M500.00 67.78h2.40 M924.20 67.78h-2.40 M500.00 56.70h4.20 M924.20 56.70h-4.20 M500.00 45.62h2.40 M924.20 45.62h-2.40 M500.00 34.54h2.40 M924.20 34.54h-2.40 M500.00 23.46h2.40 M924.20 23.46h-2.40 M500.00 12.38h2.40 M924.20 12.38h-2.40" fill="none" stroke="#000" stroke-width="1.1"/>
<rect x="500.00" y="6.80" width="424.20" height="261.40" fill="none" stroke="#000" stroke-width="1.35"/>
<text class="tk" font-size="12.50" x="553.30" y="282.50" text-anchor="middle">2</text>
<text class="tk" font-size="12.50" x="643.90" y="282.50" text-anchor="middle">4</text>
<text class="tk" font-size="12.50" x="734.50" y="282.50" text-anchor="middle">6</text>
<text class="tk" font-size="12.50" x="825.10" y="282.50" text-anchor="middle">8</text>
<text class="tk" font-size="12.50" x="915.70" y="282.50" text-anchor="middle">10</text>
<text class="tk" font-size="12.50" x="495.90" y="226.68" text-anchor="end">1</text>
<text class="tk" font-size="12.50" x="495.90" y="171.28" text-anchor="end">2</text>
<text class="tk" font-size="12.50" x="495.90" y="115.88" text-anchor="end">3</text>
<text class="tk" font-size="12.50" x="495.90" y="60.48" text-anchor="end">4</text>
</g>
<g id="panel-c">
<line x1="287.17" y1="298.20" x2="287.17" y2="560.30" stroke="#000" stroke-width="1.5" stroke-dasharray="2.8 3.15" stroke-dashoffset="-1"/>
<path d="M42.00 406.06 L42.01 406.07 L42.04 406.09 L42.09 406.14 L42.16 406.20 L42.26 406.28 L42.37 406.37 L42.50 406.47 L42.66 406.59 L42.83 406.72 L43.03 406.86 L43.25 407.01 L43.48 407.16 L43.74 407.32 L44.02 407.48 L44.32 407.64 L44.63 407.80 L44.97 407.95 L45.33 408.10 L45.72 408.24 L46.12 408.38 L46.54 408.50 L46.98 408.62 L47.44 408.72 L47.93 408.80 L48.43 408.87 L48.96 408.93 L49.50 408.97 L50.07 408.99 L50.66 408.99 L51.26 408.97 L51.89 408.94 L52.54 408.88 L53.21 408.81 L53.90 408.71 L54.61 408.60 L55.34 408.47 L56.09 408.31 L56.86 408.14 L57.66 407.95 L58.47 407.74 L59.30 407.51 L60.16 407.26 L61.03 407.00 L61.93 406.72 L62.84 406.42 L63.78 406.10 L64.74 405.77 L65.71 405.42 L66.71 405.06 L67.73 404.68 L68.77 404.29 L69.83 403.88 L70.91 403.46 L72.01 403.03 L73.14 402.59 L74.28 402.13 L75.44 401.66 L76.62 401.18 L77.83 400.69 L79.05 400.19 L80.30 399.68 L81.57 399.17 L82.85 398.64 L84.16 398.10 L85.49 397.56 L86.83 397.00 L88.20 396.44 L89.59 395.87 L91.00 395.30 L92.43 394.72 L93.89 394.13 L95.36 393.54 L96.85 392.94 L98.36 392.34 L99.90 391.73 L101.45 391.11 L103.03 390.49 L104.62 389.87 L106.24 389.24 L107.87 388.61 L109.53 387.98 L111.21 387.34 L112.91 386.70 L114.63 386.05 L116.36 385.41 L118.12 384.76 L119.91 384.10 L121.71 383.45 L123.53 382.79 L125.37 382.13 L127.23 381.47 L129.12 380.81 L131.02 380.15 L132.95 379.48 L134.89 378.81 L136.86 378.15 L138.84 377.48 L140.85 376.81 L142.88 376.13 L144.93 375.46 L147.00 374.79 L149.08 374.11 L151.19 373.44 L153.33 372.76 L155.48 372.09 L157.65 371.41 L159.84 370.74 L162.05 370.06 L164.29 369.39 L166.54 368.71 L168.82 368.03 L171.11 367.36 L173.43 366.68 L175.76 366.00 L178.12 365.33 L180.50 364.65 L182.90 363.98 L185.32 363.30 L187.75 362.63 L190.21 361.95 L192.69 361.28 L195.20 360.61 L197.72 359.94 L200.26 359.26 L202.82 358.59 L205.41 357.92 L208.01 357.25 L210.64 356.58 L213.28 355.91 L215.95 355.24 L218.63 354.58 L221.34 353.91 L224.07 353.24 L226.82 352.58 L229.58 351.91 L232.37 351.25 L235.18 350.59 L238.01 349.92 L240.86 349.26 L243.74 348.60 L246.63 347.94 L249.54 347.28 L252.47 346.63 L255.43 345.97 L258.40 345.31 L261.40 344.66 L264.41 344.00 L267.45 343.35 L270.51 342.70 L273.59 342.05 L276.68 341.40 L279.80 340.75 L282.94 340.10 L286.10 339.45 L289.28 338.80 L292.48 338.16 L295.70 337.51 L298.95 336.87 L302.21 336.23 L305.49 335.58 L308.80 334.94 L312.12 334.30 L315.47 333.66 L318.83 333.03 L322.22 332.39 L325.62 331.75 L329.05 331.12 L332.50 330.48 L335.97 329.85 L339.46 329.22 L342.97 328.58 L346.50 327.95 L350.05 327.32 L353.62 326.69 L357.21 326.07 L360.83 325.44 L364.46 324.81 L368.11 324.19 L371.79 323.56 L375.48 322.94 L379.20 322.31 L382.93 321.69 L386.69 321.07 L390.47 320.45 L394.27 319.83 L398.09 319.21 L401.92 318.59 L405.78 317.98 L409.66 317.36 L413.57 316.74 L417.49 316.13 L421.43 315.52 L425.39 314.90 L429.37 314.29 L433.38 313.68 L437.40 313.07 L441.45 312.46 L445.51 311.85 L449.60 311.24" fill="none" stroke="#000000" stroke-width="2.10"/>
<path d="M42.00 547.39 L42.01 547.39 L42.02 547.38 L42.06 547.36 L42.10 547.34 L42.15 547.31 L42.22 547.28 L42.30 547.24 L42.40 547.19 L42.50 547.13 L42.62 547.07 L42.75 547.01 L42.89 546.94 L43.05 546.86 L43.21 546.77 L43.39 546.68 L43.58 546.59 L43.79 546.48 L44.01 546.37 L44.23 546.26 L44.48 546.14 L44.73 546.02 L45.00 545.88 L45.28 545.75 L45.57 545.61 L45.87 545.46 L46.19 545.31 L46.51 545.15 L46.85 544.99 L47.21 544.82 L47.57 544.65 L47.95 544.47 L48.34 544.29 L48.74 544.10 L49.16 543.91 L49.58 543.72 L50.02 543.52 L50.48 543.32 L50.94 543.11 L51.42 542.90 L51.91 542.68 L52.41 542.46 L52.92 542.24 L53.45 542.01 L53.99 541.78 L54.54 541.55 L55.10 541.31 L55.68 541.07 L56.26 540.83 L56.86 540.58 L57.48 540.33 L58.10 540.08 L58.74 539.82 L59.39 539.56 L60.05 539.30 L60.73 539.03 L61.42 538.77 L62.11 538.50 L62.83 538.23 L63.55 537.95 L64.29 537.68 L65.04 537.40 L65.80 537.12 L66.57 536.83 L67.36 536.55 L68.16 536.26 L68.97 535.97 L69.79 535.68 L70.63 535.39 L71.48 535.10 L72.34 534.80 L73.21 534.50 L74.09 534.21 L74.99 533.91 L75.90 533.60 L76.82 533.30 L77.76 533.00 L78.71 532.69 L79.67 532.38 L80.64 532.08 L81.62 531.77 L82.62 531.46 L83.63 531.15 L84.65 530.84 L85.68 530.52 L86.73 530.21 L87.79 529.90 L88.86 529.58 L89.94 529.27 L91.04 528.95 L92.15 528.63 L93.27 528.32 L94.40 528.00 L95.55 527.68 L96.70 527.36 L97.87 527.04 L99.06 526.72 L100.25 526.40 L101.46 526.08 L102.68 525.76 L103.91 525.44 L105.15 525.12 L106.41 524.80 L107.68 524.48 L108.96 524.15 L110.26 523.83 L111.56 523.51 L112.88 523.19 L114.21 522.87 L115.56 522.54 L116.91 522.22 L118.28 521.90 L119.66 521.58 L121.05 521.26 L122.46 520.94 L123.88 520.61 L125.31 520.29 L126.75 519.97 L128.20 519.65 L129.67 519.33 L131.15 519.01 L132.64 518.69 L134.15 518.37 L135.66 518.05 L137.19 517.73 L138.74 517.41 L140.29 517.09 L141.86 516.77 L143.43 516.45 L145.03 516.13 L146.63 515.81 L148.24 515.50 L149.87 515.18 L151.51 514.86 L153.17 514.54 L154.83 514.23 L156.51 513.91 L158.20 513.60 L159.90 513.28 L161.62 512.97 L163.34 512.65 L165.08 512.34 L166.84 512.02 L168.60 511.71 L170.38 511.40 L172.17 511.08 L173.97 510.77 L175.78 510.46 L177.61 510.15 L179.45 509.84 L181.30 509.53 L183.16 509.22 L185.04 508.91 L186.93 508.60 L188.83 508.29 L190.74 507.98 L192.67 507.67 L194.60 507.36 L196.55 507.05 L198.52 506.74 L200.49 506.44 L202.48 506.13 L204.48 505.82 L206.49 505.52 L208.51 505.21 L210.55 504.91 L212.60 504.60 L214.66 504.29 L216.74 503.99 L218.82 503.68 L220.92 503.38 L223.03 503.08 L225.16 502.77 L227.29 502.47 L229.44 502.16 L231.60 501.86 L233.77 501.56 L235.96 501.26 L238.16 500.95 L240.37 500.65 L242.59 500.35 L244.82 500.04 L247.07 499.74 L249.33 499.44 L251.60 499.14 L253.89 498.84 L256.19 498.53 L258.49 498.23 L260.82 497.93 L263.15 497.63 L265.50 497.33 L267.86 497.03 L270.23 496.72 L272.61 496.42 L275.01 496.12 L277.41 495.82 L279.84 495.52 L282.27 495.21 L284.71 494.91 L287.17 494.61 L287.17 494.61 L287.18 494.61 L287.19 494.61 L287.21 494.60 L287.24 494.59 L287.27 494.59 L287.32 494.58 L287.37 494.57 L287.43 494.55 L287.50 494.54 L287.58 494.52 L287.67 494.50 L287.76 494.48 L287.86 494.46 L287.98 494.44 L288.09 494.41 L288.22 494.39 L288.36 494.36 L288.50 494.33 L288.65 494.29 L288.81 494.26 L288.98 494.23 L289.16 494.19 L289.34 494.15 L289.53 494.11 L289.73 494.07 L289.94 494.02 L290.16 493.98 L290.39 493.93 L290.62 493.88 L290.86 493.83 L291.11 493.78 L291.37 493.72 L291.64 493.67 L291.91 493.61 L292.20 493.55 L292.49 493.49 L292.79 493.42 L293.09 493.36 L293.41 493.29 L293.73 493.23 L294.07 493.16 L294.41 493.09 L294.76 493.01 L295.11 492.94 L295.48 492.86 L295.85 492.79 L296.23 492.71 L296.62 492.63 L297.02 492.54 L297.43 492.46 L297.84 492.37 L298.26 492.29 L298.69 492.20 L299.13 492.11 L299.58 492.02 L300.03 491.92 L300.50 491.83 L300.97 491.73 L301.45 491.63 L301.94 491.53 L302.43 491.43 L302.94 491.33 L303.45 491.23 L303.97 491.12 L304.50 491.01 L305.04 490.90 L305.58 490.79 L306.14 490.68 L306.70 490.57 L307.27 490.46 L307.85 490.34 L308.43 490.22 L309.03 490.10 L309.63 489.98 L310.24 489.86 L310.86 489.74 L311.49 489.61 L312.13 489.49 L312.77 489.36 L313.42 489.23 L314.08 489.10 L314.75 488.97 L315.43 488.84 L316.11 488.70 L316.81 488.57 L317.51 488.43 L318.22 488.29 L318.93 488.15 L319.66 488.01 L320.39 487.87 L321.14 487.73 L321.89 487.59 L322.65 487.44 L323.41 487.29 L324.19 487.15 L324.97 487.00 L325.76 486.85 L326.56 486.70 L327.37 486.54 L328.19 486.39 L329.01 486.23 L329.84 486.08 L330.69 485.92 L331.53 485.76 L332.39 485.60 L333.26 485.44 L334.13 485.28 L335.01 485.12 L335.90 484.96 L336.80 484.79 L337.71 484.63 L338.62 484.46 L339.55 484.30 L340.48 484.13 L341.42 483.96 L342.36 483.79 L343.32 483.62 L344.28 483.45 L345.25 483.27 L346.23 483.10 L347.22 482.93 L348.22 482.75 L349.22 482.58 L350.24 482.40 L351.26 482.22 L352.29 482.04 L353.33 481.87 L354.37 481.69 L355.43 481.51 L356.49 481.33 L357.56 481.15 L358.64 480.97 L359.73 480.78 L360.82 480.60 L361.92 480.42 L363.04 480.24 L364.15 480.05 L365.28 479.87 L366.42 479.68 L367.56 479.50 L368.72 479.31 L369.88 479.12 L371.05 478.93 L372.22 478.75 L373.41 478.56 L374.60 478.37 L375.80 478.18 L377.01 477.99 L378.23 477.79 L379.46 477.60 L380.69 477.41 L381.94 477.21 L383.19 477.02 L384.45 476.82 L385.71 476.63 L386.99 476.43 L388.27 476.23 L389.56 476.03 L390.86 475.84 L392.17 475.63 L393.49 475.43 L394.81 475.23 L396.15 475.03 L397.49 474.82 L398.84 474.62 L400.20 474.41 L401.56 474.21 L402.94 474.00 L404.32 473.79 L405.71 473.58 L407.11 473.37 L408.51 473.16 L409.93 472.95 L411.35 472.74 L412.78 472.53 L414.22 472.32 L415.67 472.10 L417.13 471.89 L418.59 471.67 L420.06 471.46 L421.54 471.24 L423.03 471.03 L424.53 470.81 L426.04 470.60 L427.55 470.38 L429.07 470.16 L430.60 469.94 L432.14 469.72 L433.69 469.51 L435.24 469.29 L436.80 469.07 L438.37 468.85 L439.95 468.63 L441.54 468.41 L443.14 468.19 L444.74 467.96 L446.35 467.74 L447.97 467.52 L449.60 467.30" fill="none" stroke="#0000ff" stroke-width="2.10" stroke-dasharray="3.1 2.85"/>
<path d="M42.00 502.91 L42.01 502.93 L42.02 502.98 L42.06 503.06 L42.10 503.17 L42.15 503.31 L42.22 503.48 L42.30 503.68 L42.40 503.90 L42.50 504.14 L42.62 504.40 L42.75 504.67 L42.89 504.97 L43.05 505.27 L43.21 505.58 L43.39 505.90 L43.58 506.22 L43.79 506.55 L44.01 506.88 L44.23 507.20 L44.48 507.52 L44.73 507.83 L45.00 508.14 L45.28 508.44 L45.57 508.73 L45.87 509.00 L46.19 509.27 L46.51 509.53 L46.85 509.77 L47.21 510.01 L47.57 510.23 L47.95 510.44 L48.34 510.63 L48.74 510.82 L49.16 510.99 L49.58 511.15 L50.02 511.30 L50.48 511.44 L50.94 511.57 L51.42 511.68 L51.91 511.79 L52.41 511.89 L52.92 511.98 L53.45 512.06 L53.99 512.13 L54.54 512.20 L55.10 512.26 L55.68 512.31 L56.26 512.35 L56.86 512.39 L57.48 512.42 L58.10 512.45 L58.74 512.47 L59.39 512.49 L60.05 512.50 L60.73 512.50 L61.42 512.50 L62.11 512.50 L62.83 512.50 L63.55 512.48 L64.29 512.47 L65.04 512.45 L65.80 512.43 L66.57 512.40 L67.36 512.38 L68.16 512.34 L68.97 512.31 L69.79 512.27 L70.63 512.23 L71.48 512.18 L72.34 512.13 L73.21 512.08 L74.09 512.03 L74.99 511.97 L75.90 511.91 L76.82 511.85 L77.76 511.78 L78.71 511.71 L79.67 511.64 L80.64 511.57 L81.62 511.49 L82.62 511.41 L83.63 511.32 L84.65 511.24 L85.68 511.15 L86.73 511.06 L87.79 510.96 L88.86 510.86 L89.94 510.76 L91.04 510.66 L92.15 510.55 L93.27 510.44 L94.40 510.33 L95.55 510.21 L96.70 510.09 L97.87 509.97 L99.06 509.85 L100.25 509.72 L101.46 509.59 L102.68 509.46 L103.91 509.33 L105.15 509.19 L106.41 509.05 L107.68 508.90 L108.96 508.76 L110.26 508.61 L111.56 508.46 L112.88 508.30 L114.21 508.15 L115.56 507.99 L116.91 507.82 L118.28 507.66 L119.66 507.49 L121.05 507.32 L122.46 507.15 L123.88 506.98 L125.31 506.80 L126.75 506.62 L128.20 506.44 L129.67 506.26 L131.15 506.07 L132.64 505.89 L134.15 505.70 L135.66 505.50 L137.19 505.31 L138.74 505.11 L140.29 504.92 L141.86 504.72 L143.43 504.52 L145.03 504.31 L146.63 504.11 L148.24 503.90 L149.87 503.69 L151.51 503.48 L153.17 503.27 L154.83 503.06 L156.51 502.84 L158.20 502.62 L159.90 502.41 L161.62 502.19 L163.34 501.97 L165.08 501.75 L166.84 501.52 L168.60 501.30 L170.38 501.07 L172.17 500.85 L173.97 500.62 L175.78 500.39 L177.61 500.17 L179.45 499.94 L181.30 499.70 L183.16 499.47 L185.04 499.24 L186.93 499.01 L188.83 498.78 L190.74 498.54 L192.67 498.31 L194.60 498.07 L196.55 497.84 L198.52 497.60 L200.49 497.37 L202.48 497.13 L204.48 496.89 L206.49 496.66 L208.51 496.42 L210.55 496.18 L212.60 495.95 L214.66 495.71 L216.74 495.47 L218.82 495.24 L220.92 495.00 L223.03 494.76 L225.16 494.53 L227.29 494.29 L229.44 494.06 L231.60 493.82 L233.77 493.59 L235.96 493.35 L238.16 493.12 L240.37 492.88 L242.59 492.65 L244.82 492.42 L247.07 492.19 L249.33 491.96 L251.60 491.73 L253.89 491.50 L256.19 491.27 L258.49 491.04 L260.82 490.82 L263.15 490.59 L265.50 490.36 L267.86 490.14 L270.23 489.92 L272.61 489.70 L275.01 489.48 L277.41 489.26 L279.84 489.04 L282.27 488.82 L284.71 488.61 L287.17 488.39 L287.17 488.39 L287.18 488.39 L287.19 488.39 L287.21 488.39 L287.24 488.39 L287.27 488.39 L287.32 488.39 L287.37 488.39 L287.43 488.39 L287.50 488.39 L287.58 488.39 L287.67 488.39 L287.76 488.39 L287.86 488.39 L287.98 488.39 L288.09 488.39 L288.22 488.39 L288.36 488.39 L288.50 488.39 L288.65 488.39 L288.81 488.39 L288.98 488.39 L289.16 488.39 L289.34 488.39 L289.53 488.39 L289.73 488.39 L289.94 488.39 L290.16 488.39 L290.39 488.39 L290.62 488.39 L290.86 488.39 L291.11 488.39 L291.37 488.39 L291.64 488.39 L291.91 488.39 L292.20 488.39 L292.49 488.39 L292.79 488.39 L293.09 488.39 L293.41 488.39 L293.73 488.39 L294.07 488.39 L294.41 488.39 L294.76 488.39 L295.11 488.39 L295.48 488.39 L295.85 488.39 L296.23 488.39 L296.62 488.39 L297.02 488.39 L297.43 488.39 L297.84 488.39 L298.26 488.39 L298.69 488.39 L299.13 488.39 L299.58 488.39 L300.03 488.39 L300.50 488.39 L300.97 488.39 L301.45 488.39 L301.94 488.39 L302.43 488.39 L302.94 488.39 L303.45 488.39 L303.97 488.39 L304.50 488.39 L305.04 488.39 L305.58 488.39 L306.14 488.39 L306.70 488.39 L307.27 488.39 L307.85 488.39 L308.43 488.39 L309.03 488.39 L309.63 488.39 L310.24 488.39 L310.86 488.39 L311.49 488.39 L312.13 488.39 L312.77 488.39 L313.42 488.39 L314.08 488.39 L314.75 488.39 L315.43 488.39 L316.11 488.39 L316.81 488.39 L317.51 488.39 L318.22 488.39 L318.93 488.39 L319.66 488.39 L320.39 488.39 L321.14 488.39 L321.89 488.39 L322.65 488.39 L323.41 488.39 L324.19 488.39 L324.97 488.39 L325.76 488.39 L326.56 488.39 L327.37 488.39 L328.19 488.39 L329.01 488.39 L329.84 488.39 L330.69 488.39 L331.53 488.39 L332.39 488.39 L333.26 488.39 L334.13 488.39 L335.01 488.39 L335.90 488.39 L336.80 488.39 L337.71 488.39 L338.62 488.39 L339.55 488.39 L340.48 488.39 L341.42 488.39 L342.36 488.39 L343.32 488.39 L344.28 488.39 L345.25 488.39 L346.23 488.39 L347.22 488.39 L348.22 488.39 L349.22 488.39 L350.24 488.39 L351.26 488.39 L352.29 488.39 L353.33 488.39 L354.37 488.39 L355.43 488.39 L356.49 488.39 L357.56 488.39 L358.64 488.39 L359.73 488.39 L360.82 488.39 L361.92 488.39 L363.04 488.39 L364.15 488.39 L365.28 488.39 L366.42 488.39 L367.56 488.39 L368.72 488.39 L369.88 488.39 L371.05 488.39 L372.22 488.39 L373.41 488.39 L374.60 488.39 L375.80 488.39 L377.01 488.39 L378.23 488.39 L379.46 488.39 L380.69 488.39 L381.94 488.39 L383.19 488.39 L384.45 488.39 L385.71 488.39 L386.99 488.39 L388.27 488.39 L389.56 488.39 L390.86 488.39 L392.17 488.39 L393.49 488.39 L394.81 488.39 L396.15 488.39 L397.49 488.39 L398.84 488.39 L400.20 488.39 L401.56 488.39 L402.94 488.39 L404.32 488.39 L405.71 488.39 L407.11 488.39 L408.51 488.39 L409.93 488.39 L411.35 488.39 L412.78 488.39 L414.22 488.39 L415.67 488.39 L417.13 488.39 L418.59 488.39 L420.06 488.39 L421.54 488.39 L423.03 488.39 L424.53 488.39 L426.04 488.39 L427.55 488.39 L429.07 488.39 L430.60 488.39 L432.14 488.39 L433.69 488.39 L435.24 488.39 L436.80 488.39 L438.37 488.39 L439.95 488.39 L441.54 488.39 L443.14 488.39 L444.74 488.39 L446.35 488.39 L447.97 488.39 L449.60 488.39" fill="none" stroke="#0000ff" stroke-width="2.10"/>
<path d="M42.00 525.38 L42.01 525.38 L42.04 525.36 L42.09 525.34 L42.16 525.31 L42.26 525.27 L42.37 525.21 L42.50 525.15 L42.66 525.08 L42.83 525.00 L43.03 524.91 L43.25 524.82 L43.48 524.71 L43.74 524.59 L44.02 524.46 L44.32 524.32 L44.63 524.18 L44.97 524.02 L45.33 523.85 L45.72 523.68 L46.12 523.49 L46.54 523.29 L46.98 523.08 L47.44 522.87 L47.93 522.64 L48.43 522.40 L48.96 522.15 L49.50 521.89 L50.07 521.62 L50.66 521.34 L51.26 521.06 L51.89 520.76 L52.54 520.44 L53.21 520.12 L53.90 519.79 L54.61 519.45 L55.34 519.10 L56.09 518.74 L56.86 518.37 L57.66 517.98 L58.47 517.59 L59.30 517.19 L60.16 516.78 L61.03 516.35 L61.93 515.92 L62.84 515.48 L63.78 515.03 L64.74 514.57 L65.71 514.10 L66.71 513.62 L67.73 513.13 L68.77 512.63 L69.83 512.13 L70.91 511.61 L72.01 511.09 L73.14 510.56 L74.28 510.02 L75.44 509.47 L76.62 508.92 L77.83 508.35 L79.05 507.78 L80.30 507.21 L81.57 506.62 L82.85 506.03 L84.16 505.43 L85.49 504.82 L86.83 504.21 L88.20 503.60 L89.59 502.97 L91.00 502.34 L92.43 501.71 L93.89 501.07 L95.36 500.42 L96.85 499.77 L98.36 499.11 L99.90 498.45 L101.45 497.79 L103.03 497.12 L104.62 496.44 L106.24 495.77 L107.87 495.08 L109.53 494.40 L111.21 493.71 L112.91 493.02 L114.63 492.32 L116.36 491.62 L118.12 490.92 L119.91 490.22 L121.71 489.51 L123.53 488.81 L125.37 488.10 L127.23 487.38 L129.12 486.67 L131.02 485.95 L132.95 485.24 L134.89 484.52 L136.86 483.80 L138.84 483.07 L140.85 482.35 L142.88 481.63 L144.93 480.90 L147.00 480.18 L149.08 479.45 L151.19 478.73 L153.33 478.00 L155.48 477.27 L157.65 476.55 L159.84 475.82 L162.05 475.10 L164.29 474.37 L166.54 473.64 L168.82 472.92 L171.11 472.19 L173.43 471.47 L175.76 470.74 L178.12 470.02 L180.50 469.30 L182.90 468.58 L185.32 467.85 L187.75 467.13 L190.21 466.42 L192.69 465.70 L195.20 464.98 L197.72 464.27 L200.26 463.55 L202.82 462.84 L205.41 462.13 L208.01 461.42 L210.64 460.71 L213.28 460.01 L215.95 459.30 L218.63 458.60 L221.34 457.90 L224.07 457.20 L226.82 456.50 L229.58 455.80 L232.37 455.11 L235.18 454.41 L238.01 453.72 L240.86 453.03 L243.74 452.35 L246.63 451.66 L249.54 450.98 L252.47 450.30 L255.43 449.62 L258.40 448.94 L261.40 448.27 L264.41 447.60 L267.45 446.92 L270.51 446.26 L273.59 445.59 L276.68 444.93 L279.80 444.26 L282.94 443.60 L286.10 442.95 L289.28 442.29 L292.48 441.64 L295.70 440.98 L298.95 440.34 L302.21 439.69 L305.49 439.04 L308.80 438.40 L312.12 437.76 L315.47 437.12 L318.83 436.49 L322.22 435.85 L325.62 435.22 L329.05 434.59 L332.50 433.96 L335.97 433.34 L339.46 432.72 L342.97 432.10 L346.50 431.48 L350.05 430.86 L353.62 430.24 L357.21 429.63 L360.83 429.02 L364.46 428.41 L368.11 427.81 L371.79 427.20 L375.48 426.60 L379.20 426.00 L382.93 425.40 L386.69 424.81 L390.47 424.21 L394.27 423.62 L398.09 423.03 L401.92 422.44 L405.78 421.86 L409.66 421.27 L413.57 420.69 L417.49 420.11 L421.43 419.53 L425.39 418.96 L429.37 418.38 L433.38 417.81 L437.40 417.24 L441.45 416.67 L445.51 416.10 L449.60 415.53" fill="none" stroke="#ff0000" stroke-width="2.10" stroke-dasharray="7.1 2.85 3 2.7"/>
<path d="M42.00 525.38 L42.01 525.40 L42.04 525.46 L42.09 525.55 L42.16 525.69 L42.26 525.85 L42.37 526.05 L42.50 526.27 L42.66 526.52 L42.83 526.79 L43.03 527.08 L43.25 527.39 L43.48 527.71 L43.74 528.03 L44.02 528.37 L44.32 528.70 L44.63 529.04 L44.97 529.37 L45.33 529.70 L45.72 530.02 L46.12 530.34 L46.54 530.65 L46.98 530.95 L47.44 531.24 L47.93 531.52 L48.43 531.79 L48.96 532.05 L49.50 532.30 L50.07 532.54 L50.66 532.77 L51.26 532.99 L51.89 533.20 L52.54 533.40 L53.21 533.60 L53.90 533.78 L54.61 533.96 L55.34 534.13 L56.09 534.30 L56.86 534.46 L57.66 534.61 L58.47 534.76 L59.30 534.91 L60.16 535.05 L61.03 535.18 L61.93 535.31 L62.84 535.44 L63.78 535.57 L64.74 535.69 L65.71 535.81 L66.71 535.92 L67.73 536.04 L68.77 536.15 L69.83 536.26 L70.91 536.37 L72.01 536.47 L73.14 536.58 L74.28 536.68 L75.44 536.78 L76.62 536.88 L77.83 536.98 L79.05 537.07 L80.30 537.17 L81.57 537.26 L82.85 537.35 L84.16 537.44 L85.49 537.53 L86.83 537.61 L88.20 537.70 L89.59 537.78 L91.00 537.87 L92.43 537.95 L93.89 538.03 L95.36 538.10 L96.85 538.18 L98.36 538.26 L99.90 538.33 L101.45 538.40 L103.03 538.48 L104.62 538.54 L106.24 538.61 L107.87 538.68 L109.53 538.75 L111.21 538.81 L112.91 538.87 L114.63 538.93 L116.36 538.99 L118.12 539.05 L119.91 539.11 L121.71 539.16 L123.53 539.22 L125.37 539.27 L127.23 539.32 L129.12 539.37 L131.02 539.42 L132.95 539.46 L134.89 539.51 L136.86 539.55 L138.84 539.60 L140.85 539.64 L142.88 539.68 L144.93 539.71 L147.00 539.75 L149.08 539.79 L151.19 539.82 L153.33 539.85 L155.48 539.89 L157.65 539.92 L159.84 539.95 L162.05 539.97 L164.29 540.00 L166.54 540.03 L168.82 540.05 L171.11 540.07 L173.43 540.10 L175.76 540.12 L178.12 540.14 L180.50 540.16 L182.90 540.18 L185.32 540.19 L187.75 540.21 L190.21 540.22 L192.69 540.24 L195.20 540.25 L197.72 540.26 L200.26 540.27 L202.82 540.28 L205.41 540.29 L208.01 540.30 L210.64 540.31 L213.28 540.32 L215.95 540.33 L218.63 540.33 L221.34 540.34 L224.07 540.34 L226.82 540.35 L229.58 540.35 L232.37 540.35 L235.18 540.35 L238.01 540.36 L240.86 540.36 L243.74 540.36 L246.63 540.36 L249.54 540.36 L252.47 540.36 L255.43 540.36 L258.40 540.35 L261.40 540.35 L264.41 540.35 L267.45 540.35 L270.51 540.35 L273.59 540.34 L276.68 540.34 L279.80 540.34 L282.94 540.33 L286.10 540.33 L289.28 540.33 L292.48 540.32 L295.70 540.32 L298.95 540.32 L302.21 540.31 L305.49 540.31 L308.80 540.30 L312.12 540.30 L315.47 540.30 L318.83 540.29 L322.22 540.29 L325.62 540.29 L329.05 540.28 L332.50 540.28 L335.97 540.28 L339.46 540.27 L342.97 540.27 L346.50 540.27 L350.05 540.27 L353.62 540.27 L357.21 540.26 L360.83 540.26 L364.46 540.26 L368.11 540.26 L371.79 540.26 L375.48 540.26 L379.20 540.26 L382.93 540.26 L386.69 540.26 L390.47 540.27 L394.27 540.27 L398.09 540.27 L401.92 540.28 L405.78 540.28 L409.66 540.28 L413.57 540.29 L417.49 540.29 L421.43 540.30 L425.39 540.31 L429.37 540.32 L433.38 540.32 L437.40 540.33 L441.45 540.34 L445.51 540.35 L449.60 540.36" fill="none" stroke="#ff0000" stroke-width="2.10" stroke-dasharray="7.1 2.6"/>
<path d="M42.00 560.30v-4.20 M42.00 298.20v4.20 M62.38 560.30v-2.40 M62.38 298.20v2.40 M82.76 560.30v-2.40 M82.76 298.20v2.40 M103.14 560.30v-2.40 M103.14 298.20v2.40 M123.52 560.30v-2.40 M123.52 298.20v2.40 M143.90 560.30v-4.20 M143.90 298.20v4.20 M164.28 560.30v-2.40 M164.28 298.20v2.40 M184.66 560.30v-2.40 M184.66 298.20v2.40 M205.04 560.30v-2.40 M205.04 298.20v2.40 M225.42 560.30v-2.40 M225.42 298.20v2.40 M245.80 560.30v-4.20 M245.80 298.20v4.20 M266.18 560.30v-2.40 M266.18 298.20v2.40 M286.56 560.30v-2.40 M286.56 298.20v2.40 M306.94 560.30v-2.40 M306.94 298.20v2.40 M327.32 560.30v-2.40 M327.32 298.20v2.40 M347.70 560.30v-4.20 M347.70 298.20v4.20 M368.08 560.30v-2.40 M368.08 298.20v2.40 M388.46 560.30v-2.40 M388.46 298.20v2.40 M408.84 560.30v-2.40 M408.84 298.20v2.40 M429.22 560.30v-2.40 M429.22 298.20v2.40 M449.60 560.30v-4.20 M449.60 298.20v4.20 M34.00 552.59h2.40 M458.00 552.59h-2.40 M34.00 542.40h4.20 M458.00 542.40h-4.20 M34.00 532.21h2.40 M458.00 532.21h-2.40 M34.00 522.02h2.40 M458.00 522.02h-2.40 M34.00 511.83h2.40 M458.00 511.83h-2.40 M34.00 501.64h2.40 M458.00 501.64h-2.40 M34.00 491.45h4.20 M458.00 491.45h-4.20 M34.00 481.26h2.40 M458.00 481.26h-2.40 M34.00 471.07h2.40 M458.00 471.07h-2.40 M34.00 460.88h2.40 M458.00 460.88h-2.40 M34.00 450.69h2.40 M458.00 450.69h-2.40 M34.00 440.50h4.20 M458.00 440.50h-4.20 M34.00 430.31h2.40 M458.00 430.31h-2.40 M34.00 420.12h2.40 M458.00 420.12h-2.40 M34.00 409.93h2.40 M458.00 409.93h-2.40 M34.00 399.74h2.40 M458.00 399.74h-2.40 M34.00 389.55h4.20 M458.00 389.55h-4.20 M34.00 379.36h2.40 M458.00 379.36h-2.40 M34.00 369.17h2.40 M458.00 369.17h-2.40 M34.00 358.98h2.40 M458.00 358.98h-2.40 M34.00 348.79h2.40 M458.00 348.79h-2.40 M34.00 338.60h4.20 M458.00 338.60h-4.20 M34.00 328.41h2.40 M458.00 328.41h-2.40 M34.00 318.22h2.40 M458.00 318.22h-2.40 M34.00 308.03h2.40 M458.00 308.03h-2.40" fill="none" stroke="#000" stroke-width="1.1"/>
<rect x="34.00" y="298.20" width="424.00" height="262.10" fill="none" stroke="#000" stroke-width="1.35"/>
<text class="tk" font-size="12.10" x="42.00" y="574.60" text-anchor="middle">0</text>
<text class="tk" font-size="12.10" x="143.90" y="574.60" text-anchor="middle">5</text>
<text class="tk" font-size="12.10" x="245.80" y="574.60" text-anchor="middle">10</text>
<text class="tk" font-size="12.10" x="347.70" y="574.60" text-anchor="middle">15</text>
<text class="tk" font-size="12.10" x="449.60" y="574.60" text-anchor="middle">20</text>
<text class="tk" font-size="12.10" x="29.90" y="546.03" text-anchor="end">2</text>
<text class="tk" font-size="12.10" x="29.90" y="495.08" text-anchor="end">3</text>
<text class="tk" font-size="12.10" x="29.90" y="444.13" text-anchor="end">4</text>
<text class="tk" font-size="12.10" x="29.90" y="393.18" text-anchor="end">5</text>
<text class="tk" font-size="12.10" x="29.90" y="342.23" text-anchor="end">6</text>
</g>
<g id="panel-d">
<line x1="561.64" y1="304.30" x2="561.64" y2="560.30" stroke="#000" stroke-width="1.5" stroke-dasharray="2.8 3.15" stroke-dashoffset="-1"/>
<path d="M518.50 547.20 L518.51 547.20 L518.54 547.21 L518.59 547.23 L518.66 547.24 L518.75 547.26 L518.86 547.27 L518.99 547.28 L519.14 547.27 L519.31 547.24 L519.50 547.19 L519.71 547.11 L519.95 547.00 L520.20 546.85 L520.47 546.66 L520.76 546.42 L521.07 546.13 L521.40 545.79 L521.75 545.39 L522.12 544.94 L522.52 544.43 L522.93 543.86 L523.36 543.23 L523.81 542.54 L524.28 541.80 L524.78 541.00 L525.29 540.14 L525.82 539.22 L526.37 538.26 L526.94 537.24 L527.54 536.17 L528.15 535.06 L528.78 533.90 L529.43 532.70 L530.11 531.46 L530.80 530.19 L531.51 528.87 L532.24 527.53 L533.00 526.15 L533.77 524.75 L534.56 523.31 L535.38 521.86 L536.21 520.38 L537.06 518.87 L537.94 517.35 L538.83 515.82 L539.74 514.26 L540.68 512.70 L541.63 511.12 L542.61 509.53 L543.60 507.93 L544.61 506.32 L545.65 504.70 L546.70 503.07 L547.78 501.44 L548.87 499.81 L549.99 498.17 L551.12 496.53 L552.28 494.89 L553.45 493.24 L554.64 491.60 L555.86 489.96 L557.09 488.31 L558.35 486.67 L559.62 485.03 L560.92 483.39 L562.23 481.75 L563.57 480.12 L564.93 478.49 L566.30 476.87 L567.70 475.25 L569.11 473.63 L570.55 472.02 L572.00 470.41 L573.48 468.81 L574.98 467.21 L576.49 465.62 L578.03 464.04 L579.58 462.46 L581.16 460.88 L582.76 459.32 L584.37 457.76 L586.01 456.20 L587.67 454.65 L589.34 453.11 L591.04 451.58 L592.76 450.05 L594.49 448.53 L596.25 447.02 L598.03 445.51 L599.83 444.01 L601.64 442.52 L603.48 441.03 L605.34 439.55 L607.21 438.08 L609.11 436.62 L611.03 435.16 L612.97 433.71 L614.93 432.26 L616.90 430.82 L618.90 429.39 L620.92 427.97 L622.96 426.56 L625.02 425.15 L627.09 423.74 L629.19 422.35 L631.31 420.96 L633.45 419.58 L635.61 418.20 L637.79 416.83 L639.99 415.47 L642.20 414.12 L644.44 412.77 L646.70 411.43 L648.98 410.09 L651.28 408.76 L653.60 407.44 L655.94 406.12 L658.30 404.81 L660.68 403.51 L663.08 402.21 L665.50 400.92 L667.94 399.64 L670.40 398.36 L672.88 397.08 L675.38 395.82 L677.90 394.56 L680.44 393.30 L683.00 392.05 L685.58 390.81 L688.18 389.58 L690.80 388.34 L693.44 387.12 L696.10 385.90 L698.78 384.69 L701.48 383.48 L704.20 382.28 L706.94 381.08 L709.70 379.89 L712.49 378.70 L715.29 377.52 L718.11 376.35 L720.95 375.18 L723.81 374.01 L726.69 372.85 L729.59 371.70 L732.52 370.55 L735.46 369.40 L738.42 368.27 L741.40 367.13 L744.40 366.00 L747.43 364.88 L750.47 363.76 L753.53 362.65 L756.61 361.54 L759.71 360.43 L762.84 359.33 L765.98 358.24 L769.14 357.15 L772.33 356.06 L775.53 354.98 L778.75 353.91 L781.99 352.84 L785.26 351.77 L788.54 350.71 L791.84 349.65 L795.17 348.60 L798.51 347.55 L801.87 346.50 L805.26 345.46 L808.66 344.43 L812.08 343.40 L815.53 342.37 L818.99 341.34 L822.48 340.33 L825.98 339.31 L829.50 338.30 L833.05 337.29 L836.61 336.29 L840.20 335.29 L843.80 334.30 L847.43 333.31 L851.07 332.32 L854.73 331.34 L858.42 330.36 L862.12 329.39 L865.85 328.42 L869.59 327.45 L873.36 326.49 L877.14 325.53 L880.95 324.57 L884.77 323.62 L888.62 322.67 L892.49 321.73 L896.37 320.79 L900.28 319.85 L904.20 318.92 L908.15 317.99 L912.11 317.06 L916.10 316.14" fill="none" stroke="#000000" stroke-width="2.10"/>
<path d="M518.50 547.20 L518.51 547.20 L518.54 547.21 L518.59 547.23 L518.66 547.25 L518.75 547.27 L518.86 547.30 L518.99 547.32 L519.14 547.34 L519.31 547.35 L519.50 547.36 L519.71 547.36 L519.95 547.34 L520.20 547.31 L520.47 547.26 L520.76 547.19 L521.07 547.10 L521.40 546.98 L521.75 546.84 L522.12 546.68 L522.52 546.49 L522.93 546.28 L523.36 546.03 L523.81 545.77 L524.28 545.47 L524.78 545.15 L525.29 544.80 L525.82 544.42 L526.37 544.02 L526.94 543.59 L527.54 543.13 L528.15 542.66 L528.78 542.15 L529.43 541.63 L530.11 541.08 L530.80 540.51 L531.51 539.92 L532.24 539.31 L533.00 538.68 L533.77 538.03 L534.56 537.36 L535.38 536.67 L536.21 535.97 L537.06 535.25 L537.94 534.51 L538.83 533.76 L539.74 532.99 L540.68 532.21 L541.63 531.41 L542.61 530.60 L543.60 529.77 L544.61 528.94 L545.65 528.09 L546.70 527.22 L547.78 526.35 L548.87 525.46 L549.99 524.57 L551.12 523.66 L552.28 522.75 L553.45 521.82 L554.64 520.88 L555.86 519.94 L557.09 518.98 L558.35 518.02 L559.62 517.05 L560.92 516.07 L562.23 515.08 L563.57 514.09 L564.93 513.09 L566.30 512.08 L567.70 511.06 L569.11 510.04 L570.55 509.01 L572.00 507.98 L573.48 506.94 L574.98 505.90 L576.49 504.85 L578.03 503.79 L579.58 502.73 L581.16 501.67 L582.76 500.60 L584.37 499.52 L586.01 498.44 L587.67 497.36 L589.34 496.28 L591.04 495.19 L592.76 494.10 L594.49 493.00 L596.25 491.90 L598.03 490.80 L599.83 489.70 L601.64 488.59 L603.48 487.49 L605.34 486.38 L607.21 485.26 L609.11 484.15 L611.03 483.03 L612.97 481.92 L614.93 480.80 L616.90 479.68 L618.90 478.56 L620.92 477.44 L622.96 476.32 L625.02 475.19 L627.09 474.07 L629.19 472.95 L631.31 471.82 L633.45 470.70 L635.61 469.57 L637.79 468.45 L639.99 467.33 L642.20 466.20 L644.44 465.08 L646.70 463.96 L648.98 462.83 L651.28 461.71 L653.60 460.59 L655.94 459.47 L658.30 458.36 L660.68 457.24 L663.08 456.12 L665.50 455.01 L667.94 453.90 L670.40 452.78 L672.88 451.67 L675.38 450.57 L677.90 449.46 L680.44 448.36 L683.00 447.25 L685.58 446.15 L688.18 445.06 L690.80 443.96 L693.44 442.87 L696.10 441.77 L698.78 440.68 L701.48 439.60 L704.20 438.51 L706.94 437.43 L709.70 436.35 L712.49 435.28 L715.29 434.21 L718.11 433.13 L720.95 432.07 L723.81 431.00 L726.69 429.94 L729.59 428.88 L732.52 427.83 L735.46 426.78 L738.42 425.73 L741.40 424.68 L744.40 423.64 L747.43 422.60 L750.47 421.57 L753.53 420.54 L756.61 419.51 L759.71 418.48 L762.84 417.46 L765.98 416.45 L769.14 415.43 L772.33 414.42 L775.53 413.42 L778.75 412.42 L781.99 411.42 L785.26 410.42 L788.54 409.43 L791.84 408.45 L795.17 407.47 L798.51 406.49 L801.87 405.52 L805.26 404.55 L808.66 403.58 L812.08 402.62 L815.53 401.66 L818.99 400.71 L822.48 399.76 L825.98 398.82 L829.50 397.88 L833.05 396.94 L836.61 396.01 L840.20 395.08 L843.80 394.16 L847.43 393.24 L851.07 392.33 L854.73 391.42 L858.42 390.52 L862.12 389.62 L865.85 388.72 L869.59 387.83 L873.36 386.95 L877.14 386.07 L880.95 385.19 L884.77 384.32 L888.62 383.45 L892.49 382.59 L896.37 381.73 L900.28 380.88 L904.20 380.03 L908.15 379.18 L912.11 378.35 L916.10 377.51" fill="none" stroke="#0000ff" stroke-width="2.10" stroke-dasharray="3.1 2.85"/>
<path d="M518.50 547.20 L518.50 547.20 L518.50 547.19 L518.51 547.19 L518.52 547.18 L518.53 547.16 L518.54 547.15 L518.55 547.13 L518.57 547.10 L518.59 547.08 L518.61 547.05 L518.63 547.02 L518.66 546.99 L518.68 546.95 L518.71 546.91 L518.75 546.87 L518.78 546.83 L518.82 546.79 L518.85 546.74 L518.89 546.69 L518.94 546.64 L518.98 546.59 L519.03 546.54 L519.08 546.48 L519.13 546.43 L519.18 546.37 L519.24 546.31 L519.30 546.25 L519.36 546.19 L519.42 546.13 L519.48 546.07 L519.55 546.01 L519.62 545.95 L519.69 545.89 L519.76 545.82 L519.84 545.76 L519.91 545.70 L519.99 545.63 L520.08 545.57 L520.16 545.51 L520.25 545.44 L520.33 545.38 L520.42 545.32 L520.52 545.25 L520.61 545.19 L520.71 545.13 L520.81 545.06 L520.91 545.00 L521.01 544.94 L521.12 544.88 L521.23 544.81 L521.34 544.75 L521.45 544.68 L521.56 544.62 L521.68 544.56 L521.80 544.49 L521.92 544.43 L522.04 544.36 L522.17 544.30 L522.30 544.23 L522.43 544.16 L522.56 544.09 L522.69 544.02 L522.83 543.95 L522.97 543.88 L523.11 543.81 L523.25 543.73 L523.40 543.66 L523.54 543.58 L523.69 543.50 L523.85 543.42 L524.00 543.34 L524.16 543.25 L524.31 543.17 L524.47 543.08 L524.64 542.99 L524.80 542.90 L524.97 542.80 L525.14 542.70 L525.31 542.60 L525.48 542.50 L525.66 542.39 L525.83 542.28 L526.01 542.17 L526.20 542.06 L526.38 541.94 L526.57 541.82 L526.76 541.70 L526.95 541.57 L527.14 541.44 L527.34 541.30 L527.53 541.17 L527.73 541.02 L527.93 540.88 L528.14 540.73 L528.35 540.58 L528.55 540.43 L528.76 540.27 L528.98 540.10 L529.19 539.94 L529.41 539.77 L529.63 539.60 L529.85 539.42 L530.07 539.24 L530.30 539.05 L530.53 538.86 L530.76 538.67 L530.99 538.48 L531.22 538.28 L531.46 538.07 L531.70 537.87 L531.94 537.66 L532.18 537.44 L532.43 537.23 L532.68 537.00 L532.93 536.78 L533.18 536.55 L533.43 536.32 L533.69 536.09 L533.95 535.85 L534.21 535.61 L534.47 535.36 L534.74 535.11 L535.00 534.86 L535.27 534.61 L535.54 534.35 L535.82 534.09 L536.09 533.83 L536.37 533.56 L536.65 533.30 L536.94 533.03 L537.22 532.75 L537.51 532.48 L537.80 532.20 L538.09 531.92 L538.38 531.64 L538.68 531.35 L538.97 531.06 L539.27 530.77 L539.58 530.48 L539.88 530.19 L540.19 529.90 L540.50 529.60 L540.81 529.30 L541.12 529.00 L541.44 528.70 L541.75 528.40 L542.07 528.10 L542.39 527.79 L542.72 527.49 L543.04 527.18 L543.37 526.87 L543.70 526.56 L544.04 526.25 L544.37 525.95 L544.71 525.64 L545.05 525.33 L545.39 525.02 L545.73 524.70 L546.08 524.39 L546.43 524.08 L546.78 523.77 L547.13 523.46 L547.48 523.15 L547.84 522.84 L548.20 522.53 L548.56 522.22 L548.92 521.92 L549.29 521.61 L549.66 521.30 L550.03 521.00 L550.40 520.69 L550.77 520.39 L551.15 520.09 L551.53 519.79 L551.91 519.49 L552.29 519.19 L552.68 518.89 L553.06 518.60 L553.45 518.31 L553.84 518.02 L554.24 517.73 L554.63 517.44 L555.03 517.15 L555.43 516.87 L555.83 516.59 L556.24 516.31 L556.65 516.04 L557.06 515.77 L557.47 515.49 L557.88 515.23 L558.30 514.96 L558.71 514.70 L559.13 514.44 L559.56 514.19 L559.98 513.93 L560.41 513.68 L560.84 513.44 L561.27 513.19 L561.70 512.95 L561.70 512.95 L561.71 512.95 L561.74 512.94 L561.78 512.92 L561.84 512.89 L561.92 512.85 L562.02 512.81 L562.14 512.75 L562.27 512.69 L562.42 512.62 L562.59 512.55 L562.78 512.46 L562.99 512.37 L563.21 512.27 L563.45 512.17 L563.71 512.06 L563.99 511.94 L564.29 511.81 L564.60 511.68 L564.93 511.55 L565.28 511.41 L565.65 511.26 L566.03 511.10 L566.43 510.95 L566.85 510.78 L567.29 510.62 L567.75 510.45 L568.22 510.27 L568.72 510.09 L569.23 509.91 L569.75 509.72 L570.30 509.53 L570.86 509.34 L571.45 509.14 L572.04 508.95 L572.66 508.75 L573.30 508.54 L573.95 508.34 L574.62 508.13 L575.31 507.93 L576.02 507.72 L576.74 507.51 L577.49 507.30 L578.25 507.08 L579.03 506.87 L579.82 506.65 L580.64 506.44 L581.47 506.22 L582.32 506.01 L583.19 505.79 L584.07 505.58 L584.98 505.36 L585.90 505.14 L586.84 504.93 L587.80 504.71 L588.77 504.49 L589.76 504.28 L590.78 504.06 L591.80 503.85 L592.85 503.63 L593.92 503.42 L595.00 503.21 L596.10 502.99 L597.22 502.78 L598.36 502.57 L599.51 502.36 L600.68 502.15 L601.87 501.94 L603.08 501.73 L604.31 501.52 L605.55 501.32 L606.81 501.11 L608.09 500.91 L609.39 500.70 L610.71 500.50 L612.04 500.30 L613.39 500.10 L614.76 499.90 L616.15 499.70 L617.55 499.51 L618.97 499.31 L620.42 499.12 L621.87 498.92 L623.35 498.73 L624.85 498.54 L626.36 498.35 L627.89 498.16 L629.44 497.98 L631.00 497.79 L632.59 497.61 L634.19 497.43 L635.81 497.25 L637.45 497.07 L639.10 496.89 L640.78 496.71 L642.47 496.54 L644.18 496.36 L645.90 496.19 L647.65 496.02 L649.41 495.85 L651.19 495.68 L652.99 495.52 L654.81 495.35 L656.64 495.19 L658.49 495.03 L660.37 494.87 L662.25 494.71 L664.16 494.55 L666.08 494.39 L668.03 494.24 L669.99 494.09 L671.96 493.94 L673.96 493.79 L675.97 493.64 L678.00 493.49 L680.05 493.35 L682.12 493.21 L684.21 493.07 L686.31 492.93 L688.43 492.79 L690.57 492.65 L692.73 492.52 L694.90 492.38 L697.09 492.25 L699.30 492.12 L701.53 492.00 L703.78 491.87 L706.04 491.74 L708.32 491.62 L710.62 491.50 L712.94 491.38 L715.28 491.26 L717.63 491.14 L720.00 491.03 L722.39 490.91 L724.80 490.80 L727.23 490.69 L729.67 490.58 L732.13 490.47 L734.61 490.36 L737.11 490.26 L739.62 490.15 L742.15 490.05 L744.70 489.95 L747.27 489.85 L749.86 489.75 L752.46 489.66 L755.08 489.56 L757.72 489.47 L760.38 489.38 L763.06 489.28 L765.75 489.19 L768.46 489.11 L771.19 489.02 L773.94 488.93 L776.71 488.85 L779.49 488.77 L782.29 488.68 L785.11 488.60 L787.95 488.52 L790.80 488.45 L793.67 488.37 L796.56 488.29 L799.47 488.22 L802.40 488.14 L805.34 488.07 L808.31 488.00 L811.29 487.93 L814.28 487.86 L817.30 487.79 L820.33 487.72 L823.39 487.66 L826.45 487.59 L829.54 487.52 L832.65 487.46 L835.77 487.40 L838.91 487.34 L842.07 487.27 L845.25 487.21 L848.44 487.15 L851.66 487.10 L854.89 487.04 L858.14 486.98 L861.40 486.92 L864.69 486.87 L867.99 486.81 L871.31 486.76 L874.65 486.70 L878.00 486.65 L881.38 486.60 L884.77 486.54 L888.18 486.49 L891.61 486.44 L895.05 486.39 L898.51 486.34 L902.00 486.29 L905.50 486.24 L909.01 486.19 L912.55 486.14 L916.10 486.09" fill="none" stroke="#0000ff" stroke-width="2.10"/>
<path d="M518.50 547.20 L518.51 547.20 L518.54 547.20 L518.59 547.20 L518.66 547.20 L518.75 547.20 L518.86 547.19 L518.99 547.18 L519.14 547.16 L519.31 547.13 L519.50 547.08 L519.71 547.02 L519.95 546.94 L520.20 546.84 L520.47 546.72 L520.76 546.57 L521.07 546.39 L521.40 546.18 L521.75 545.95 L522.12 545.68 L522.52 545.37 L522.93 545.03 L523.36 544.65 L523.81 544.24 L524.28 543.79 L524.78 543.31 L525.29 542.79 L525.82 542.23 L526.37 541.64 L526.94 541.01 L527.54 540.34 L528.15 539.64 L528.78 538.91 L529.43 538.15 L530.11 537.35 L530.80 536.52 L531.51 535.67 L532.24 534.78 L533.00 533.87 L533.77 532.93 L534.56 531.97 L535.38 530.98 L536.21 529.97 L537.06 528.93 L537.94 527.88 L538.83 526.81 L539.74 525.71 L540.68 524.60 L541.63 523.48 L542.61 522.33 L543.60 521.17 L544.61 520.00 L545.65 518.82 L546.70 517.62 L547.78 516.41 L548.87 515.19 L549.99 513.96 L551.12 512.72 L552.28 511.47 L553.45 510.21 L554.64 508.95 L555.86 507.67 L557.09 506.40 L558.35 505.11 L559.62 503.82 L560.92 502.53 L562.23 501.23 L563.57 499.93 L564.93 498.63 L566.30 497.32 L567.70 496.01 L569.11 494.70 L570.55 493.39 L572.00 492.07 L573.48 490.75 L574.98 489.44 L576.49 488.12 L578.03 486.80 L579.58 485.48 L581.16 484.17 L582.76 482.85 L584.37 481.53 L586.01 480.22 L587.67 478.91 L589.34 477.59 L591.04 476.28 L592.76 474.97 L594.49 473.67 L596.25 472.36 L598.03 471.06 L599.83 469.76 L601.64 468.46 L603.48 467.17 L605.34 465.88 L607.21 464.59 L609.11 463.30 L611.03 462.02 L612.97 460.74 L614.93 459.46 L616.90 458.19 L618.90 456.92 L620.92 455.66 L622.96 454.39 L625.02 453.13 L627.09 451.88 L629.19 450.63 L631.31 449.38 L633.45 448.14 L635.61 446.90 L637.79 445.66 L639.99 444.43 L642.20 443.20 L644.44 441.98 L646.70 440.76 L648.98 439.54 L651.28 438.33 L653.60 437.13 L655.94 435.92 L658.30 434.72 L660.68 433.53 L663.08 432.34 L665.50 431.15 L667.94 429.97 L670.40 428.79 L672.88 427.62 L675.38 426.45 L677.90 425.29 L680.44 424.13 L683.00 422.97 L685.58 421.82 L688.18 420.67 L690.80 419.53 L693.44 418.39 L696.10 417.25 L698.78 416.12 L701.48 415.00 L704.20 413.88 L706.94 412.76 L709.70 411.64 L712.49 410.53 L715.29 409.43 L718.11 408.33 L720.95 407.23 L723.81 406.14 L726.69 405.05 L729.59 403.97 L732.52 402.89 L735.46 401.81 L738.42 400.74 L741.40 399.67 L744.40 398.61 L747.43 397.55 L750.47 396.49 L753.53 395.44 L756.61 394.39 L759.71 393.35 L762.84 392.31 L765.98 391.28 L769.14 390.25 L772.33 389.22 L775.53 388.19 L778.75 387.17 L781.99 386.16 L785.26 385.15 L788.54 384.14 L791.84 383.13 L795.17 382.13 L798.51 381.14 L801.87 380.14 L805.26 379.15 L808.66 378.17 L812.08 377.19 L815.53 376.21 L818.99 375.23 L822.48 374.26 L825.98 373.30 L829.50 372.33 L833.05 371.37 L836.61 370.42 L840.20 369.46 L843.80 368.51 L847.43 367.57 L851.07 366.63 L854.73 365.69 L858.42 364.75 L862.12 363.82 L865.85 362.89 L869.59 361.97 L873.36 361.04 L877.14 360.13 L880.95 359.21 L884.77 358.30 L888.62 357.39 L892.49 356.49 L896.37 355.58 L900.28 354.68 L904.20 353.79 L908.15 352.90 L912.11 352.01 L916.10 351.12" fill="none" stroke="#ff0000" stroke-width="2.10" stroke-dasharray="7.1 2.85 3 2.7"/>
<path d="M518.50 547.20 L518.51 547.20 L518.54 547.21 L518.59 547.22 L518.66 547.23 L518.75 547.24 L518.86 547.25 L518.99 547.25 L519.14 547.25 L519.31 547.24 L519.50 547.22 L519.71 547.18 L519.95 547.12 L520.20 547.05 L520.47 546.96 L520.76 546.84 L521.07 546.70 L521.40 546.53 L521.75 546.34 L522.12 546.13 L522.52 545.89 L522.93 545.63 L523.36 545.34 L523.81 545.03 L524.28 544.71 L524.78 544.36 L525.29 543.99 L525.82 543.60 L526.37 543.20 L526.94 542.79 L527.54 542.37 L528.15 541.93 L528.78 541.48 L529.43 541.03 L530.11 540.57 L530.80 540.11 L531.51 539.64 L532.24 539.17 L533.00 538.70 L533.77 538.23 L534.56 537.76 L535.38 537.29 L536.21 536.82 L537.06 536.36 L537.94 535.90 L538.83 535.44 L539.74 534.99 L540.68 534.55 L541.63 534.11 L542.61 533.68 L543.60 533.25 L544.61 532.83 L545.65 532.42 L546.70 532.02 L547.78 531.62 L548.87 531.23 L549.99 530.85 L551.12 530.47 L552.28 530.10 L553.45 529.74 L554.64 529.39 L555.86 529.04 L557.09 528.71 L558.35 528.38 L559.62 528.05 L560.92 527.74 L562.23 527.43 L563.57 527.12 L564.93 526.83 L566.30 526.54 L567.70 526.26 L569.11 525.98 L570.55 525.71 L572.00 525.45 L573.48 525.19 L574.98 524.94 L576.49 524.70 L578.03 524.46 L579.58 524.22 L581.16 523.99 L582.76 523.77 L584.37 523.55 L586.01 523.33 L587.67 523.12 L589.34 522.92 L591.04 522.72 L592.76 522.52 L594.49 522.33 L596.25 522.14 L598.03 521.96 L599.83 521.78 L601.64 521.60 L603.48 521.43 L605.34 521.26 L607.21 521.10 L609.11 520.94 L611.03 520.78 L612.97 520.62 L614.93 520.47 L616.90 520.32 L618.90 520.18 L620.92 520.03 L622.96 519.89 L625.02 519.75 L627.09 519.62 L629.19 519.48 L631.31 519.35 L633.45 519.23 L635.61 519.10 L637.79 518.98 L639.99 518.85 L642.20 518.74 L644.44 518.62 L646.70 518.50 L648.98 518.39 L651.28 518.28 L653.60 518.17 L655.94 518.06 L658.30 517.95 L660.68 517.85 L663.08 517.75 L665.50 517.65 L667.94 517.55 L670.40 517.45 L672.88 517.35 L675.38 517.26 L677.90 517.16 L680.44 517.07 L683.00 516.98 L685.58 516.89 L688.18 516.80 L690.80 516.71 L693.44 516.63 L696.10 516.54 L698.78 516.46 L701.48 516.38 L704.20 516.30 L706.94 516.22 L709.70 516.14 L712.49 516.06 L715.29 515.99 L718.11 515.91 L720.95 515.84 L723.81 515.76 L726.69 515.69 L729.59 515.62 L732.52 515.55 L735.46 515.48 L738.42 515.41 L741.40 515.35 L744.40 515.28 L747.43 515.22 L750.47 515.15 L753.53 515.09 L756.61 515.03 L759.71 514.96 L762.84 514.90 L765.98 514.84 L769.14 514.79 L772.33 514.73 L775.53 514.67 L778.75 514.62 L781.99 514.56 L785.26 514.51 L788.54 514.45 L791.84 514.40 L795.17 514.35 L798.51 514.30 L801.87 514.25 L805.26 514.20 L808.66 514.15 L812.08 514.11 L815.53 514.06 L818.99 514.02 L822.48 513.97 L825.98 513.93 L829.50 513.89 L833.05 513.84 L836.61 513.80 L840.20 513.76 L843.80 513.72 L847.43 513.69 L851.07 513.65 L854.73 513.61 L858.42 513.58 L862.12 513.54 L865.85 513.51 L869.59 513.48 L873.36 513.44 L877.14 513.41 L880.95 513.38 L884.77 513.35 L888.62 513.33 L892.49 513.30 L896.37 513.27 L900.28 513.25 L904.20 513.22 L908.15 513.20 L912.11 513.18 L916.10 513.15" fill="none" stroke="#ff0000" stroke-width="2.10" stroke-dasharray="7.1 2.6"/>
<path d="M518.50 560.30v-4.20 M518.50 304.30v4.20 M538.38 560.30v-2.40 M538.38 304.30v2.40 M558.26 560.30v-2.40 M558.26 304.30v2.40 M578.14 560.30v-2.40 M578.14 304.30v2.40 M598.02 560.30v-2.40 M598.02 304.30v2.40 M617.90 560.30v-4.20 M617.90 304.30v4.20 M637.78 560.30v-2.40 M637.78 304.30v2.40 M657.66 560.30v-2.40 M657.66 304.30v2.40 M677.54 560.30v-2.40 M677.54 304.30v2.40 M697.42 560.30v-2.40 M697.42 304.30v2.40 M717.30 560.30v-4.20 M717.30 304.30v4.20 M737.18 560.30v-2.40 M737.18 304.30v2.40 M757.06 560.30v-2.40 M757.06 304.30v2.40 M776.94 560.30v-2.40 M776.94 304.30v2.40 M796.82 560.30v-2.40 M796.82 304.30v2.40 M816.70 560.30v-4.20 M816.70 304.30v4.20 M836.58 560.30v-2.40 M836.58 304.30v2.40 M856.46 560.30v-2.40 M856.46 304.30v2.40 M876.34 560.30v-2.40 M876.34 304.30v2.40 M896.22 560.30v-2.40 M896.22 304.30v2.40 M916.10 560.30v-4.20 M916.10 304.30v4.20 M510.40 553.92h2.40 M925.00 553.92h-2.40 M510.40 547.20h4.20 M925.00 547.20h-4.20 M510.40 540.49h2.40 M925.00 540.49h-2.40 M510.40 533.77h2.40 M925.00 533.77h-2.40 M510.40 527.06h2.40 M925.00 527.06h-2.40 M510.40 520.34h2.40 M925.00 520.34h-2.40 M510.40 513.62h4.20 M925.00 513.62h-4.20 M510.40 506.91h2.40 M925.00 506.91h-2.40 M510.40 500.20h2.40 M925.00 500.20h-2.40 M510.40 493.48h2.40 M925.00 493.48h-2.40 M510.40 486.77h2.40 M925.00 486.77h-2.40 M510.40 480.05h4.20 M925.00 480.05h-4.20 M510.40 473.34h2.40 M925.00 473.34h-2.40 M510.40 466.62h2.40 M925.00 466.62h-2.40 M510.40 459.91h2.40 M925.00 459.91h-2.40 M510.40 453.19h2.40 M925.00 453.19h-2.40 M510.40 446.48h4.20 M925.00 446.48h-4.20 M510.40 439.76h2.40 M925.00 439.76h-2.40 M510.40 433.05h2.40 M925.00 433.05h-2.40 M510.40 426.33h2.40 M925.00 426.33h-2.40 M510.40 419.62h2.40 M925.00 419.62h-2.40 M510.40 412.90h4.20 M925.00 412.90h-4.20 M510.40 406.19h2.40 M925.00 406.19h-2.40 M510.40 399.47h2.40 M925.00 399.47h-2.40 M510.40 392.76h2.40 M925.00 392.76h-2.40 M510.40 386.04h2.40 M925.00 386.04h-2.40 M510.40 379.33h4.20 M925.00 379.33h-4.20 M510.40 372.61h2.40 M925.00 372.61h-2.40 M510.40 365.89h2.40 M925.00 365.89h-2.40 M510.40 359.18h2.40 M925.00 359.18h-2.40 M510.40 352.47h2.40 M925.00 352.47h-2.40 M510.40 345.75h4.20 M925.00 345.75h-4.20 M510.40 339.04h2.40 M925.00 339.04h-2.40 M510.40 332.32h2.40 M925.00 332.32h-2.40 M510.40 325.61h2.40 M925.00 325.61h-2.40 M510.40 318.89h2.40 M925.00 318.89h-2.40 M510.40 312.18h4.20 M925.00 312.18h-4.20 M510.40 305.46h2.40 M925.00 305.46h-2.40" fill="none" stroke="#000" stroke-width="1.1"/>
<rect x="510.40" y="304.30" width="414.60" height="256.00" fill="none" stroke="#000" stroke-width="1.35"/>
<text class="tk" font-size="12.10" x="518.50" y="574.60" text-anchor="middle">0</text>
<text class="tk" font-size="12.10" x="617.90" y="574.60" text-anchor="middle">5</text>
<text class="tk" font-size="12.10" x="717.30" y="574.60" text-anchor="middle">10</text>
<text class="tk" font-size="12.10" x="816.70" y="574.60" text-anchor="middle">15</text>
<text class="tk" font-size="12.10" x="916.10" y="574.60" text-anchor="middle">20</text>
<text class="tk" font-size="12.10" x="506.30" y="550.83" text-anchor="end">0.0</text>
<text class="tk" font-size="12.10" x="506.30" y="517.26" text-anchor="end">0.5</text>
<text class="tk" font-size="12.10" x="506.30" y="483.68" text-anchor="end">1.0</text>
<text class="tk" font-size="12.10" x="506.30" y="450.11" text-anchor="end">1.5</text>
<text class="tk" font-size="12.10" x="506.30" y="416.53" text-anchor="end">2.0</text>
<text class="tk" font-size="12.10" x="506.30" y="382.96" text-anchor="end">2.5</text>
<text class="tk" font-size="12.10" x="506.30" y="349.38" text-anchor="end">3.0</text>
<text class="tk" font-size="12.10" x="506.30" y="315.81" text-anchor="end">3.5</text>
</g>
<g id="legend">
<line x1="229.8" y1="32.60" x2="276.8" y2="32.60" stroke="#000000" stroke-width="2.10"/>
<text class="lg" x="286.1" y="37.30">Quantum MI</text>
<line x1="229.8" y1="57.80" x2="276.8" y2="57.80" stroke="#0000ff" stroke-width="2.10" stroke-dasharray="2.7 2.35"/>
<text class="lg" x="286.1" y="62.50">Gaussian multipartite CC</text>
<line x1="229.8" y1="82.90" x2="276.8" y2="82.90" stroke="#0000ff" stroke-width="2.10"/>
<text class="lg" x="286.1" y="87.60">Gaussian multipartite QD</text>
<line x1="229.8" y1="107.90" x2="276.8" y2="107.90" stroke="#ff0000" stroke-width="2.10" stroke-dasharray="3 2.4 8.4 2.6"/>
<text class="lg" x="286.1" y="112.60">Asymmetric CC</text>
<line x1="229.8" y1="133.20" x2="276.8" y2="133.20" stroke="#ff0000" stroke-width="2.10" stroke-dasharray="7 2.6"/>
<text class="lg" x="286.1" y="137.90">Asymmetric QD</text>
</g>
<text class="pl" x="1.0" y="15.8">(a)</text>
<text class="pl" x="470.3" y="14.9">(b)</text>
<text class="pl" x="0.2" y="301.7">(c)</text>
<text class="pl" x="473.0" y="300.0">(d)</text>
<text class="ax" font-size="14.7" transform="translate(18.0 145.65) rotate(-90)" text-anchor="middle">correlation measure (bits)</text>
<text class="ax" font-size="14.76" transform="translate(484.5 146.45) rotate(-90)" text-anchor="middle">correlation measure (bits)</text>
<text class="ax" font-size="14.7" transform="translate(18.2 437.85) rotate(-90)" text-anchor="middle">correlation measure (bits)</text>
<text class="ax" font-size="14.6" transform="translate(484.5 441.35) rotate(-90)" text-anchor="middle">quantum discord measure (bits)</text>
<text class="ax" font-size="14.7" x="241" y="589.5" text-anchor="middle">noise parameter v</text>
<text class="ax" font-size="14.7" x="707.3" y="589.5" text-anchor="middle">noise parameter v</text>
</g>
</svg>
</body>
</html>
